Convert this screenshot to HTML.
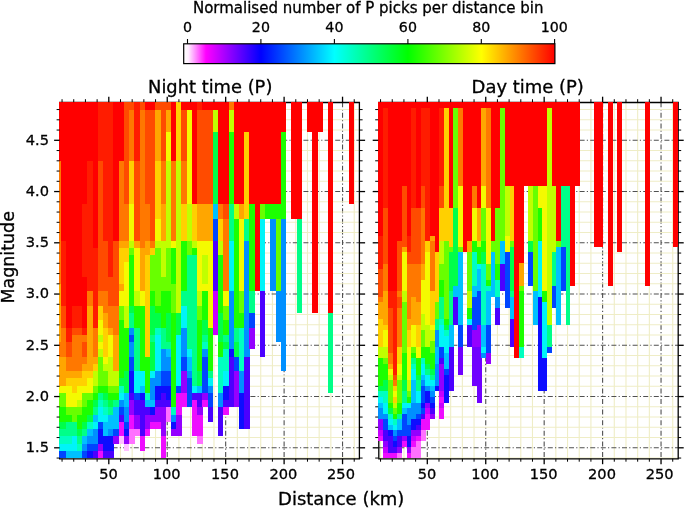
<!DOCTYPE html>
<html><head><meta charset="utf-8"><title>Normalised number of P picks per distance bin</title>
<style>
html,body{margin:0;padding:0;background:#fff;}
body{width:685px;height:510px;overflow:hidden;}
svg{display:block;filter:blur(0.35px);}
text{font-family:"DejaVu Sans","Liberation Sans",sans-serif;fill:#000;stroke:#000;stroke-width:0.3px;}
</style></head><body>
<svg width="685" height="510" viewBox="0 0 685 510">
<defs>
<linearGradient id="cb" x1="0" y1="0" x2="1" y2="0">
<stop offset="0" stop-color="#ffffff"/>
<stop offset="0.012" stop-color="#fff0ff"/>
<stop offset="0.06" stop-color="#ff00ff"/>
<stop offset="0.208" stop-color="#0000ff"/>
<stop offset="0.406" stop-color="#00ffff"/>
<stop offset="0.604" stop-color="#00ff00"/>
<stop offset="0.802" stop-color="#ffff00"/>
<stop offset="1" stop-color="#ff0000"/>
</linearGradient>
<filter id="bl" x="-2%" y="-2%" width="104%" height="104%"><feGaussianBlur stdDeviation="0.6"/></filter>
</defs>
<rect x="0" y="0" width="685" height="510" fill="#ffffff"/>
<!-- colorbar -->
<text x="368.2" y="13.1" font-size="15" text-anchor="middle">Normalised number of P picks per distance bin</text>
<g font-size="14.2" text-anchor="middle">
<text x="187.5" y="31.6">0</text><text x="260.9" y="31.6">20</text><text x="334.4" y="31.6">40</text><text x="407.9" y="31.6">60</text><text x="481.3" y="31.6">80</text><text x="554.3" y="31.6">100</text>
</g>
<g stroke="#000" stroke-width="1.1">
<line x1="187.5" y1="44" x2="187.5" y2="39"/><line x1="260.9" y1="44" x2="260.9" y2="39"/><line x1="334.4" y1="44" x2="334.4" y2="39"/><line x1="407.9" y1="44" x2="407.9" y2="39"/><line x1="481.3" y1="44" x2="481.3" y2="39"/><line x1="554.6" y1="44" x2="554.6" y2="39"/>
</g>
<rect x="183.7" y="43.8" width="371.2" height="19.8" fill="url(#cb)" stroke="#000" stroke-width="1.2"/>
<!-- titles -->
<text x="210.2" y="93.4" font-size="17.1" text-anchor="middle" textLength="124.3" lengthAdjust="spacingAndGlyphs">Night time (P)</text>
<text x="527.7" y="93.4" font-size="17.1" text-anchor="middle" textLength="112.3" lengthAdjust="spacingAndGlyphs">Day time (P)</text>
<text x="341.2" y="504.6" font-size="17.1" text-anchor="middle" textLength="126.3" lengthAdjust="spacingAndGlyphs">Distance (km)</text>
<text transform="translate(14.2,257.3) rotate(-90)" font-size="17.1" text-anchor="middle" textLength="92.4" lengthAdjust="spacingAndGlyphs">Magnitude</text>
<!-- y tick labels -->
<g font-size="14.6" text-anchor="end">
<text x="49" y="144.7">4.5</text><text x="49" y="195.9">4.0</text><text x="49" y="247.2">3.5</text><text x="49" y="298.4">3.0</text><text x="49" y="349.7">2.5</text><text x="49" y="400.9">2.0</text><text x="49" y="452.2">1.5</text>
</g>
<g font-size="14.6" text-anchor="middle">
<text x="108.6" y="479.4">50</text><text x="166.6" y="479.4">100</text><text x="225" y="479.4">150</text><text x="283.4" y="479.4">200</text><text x="341" y="479.4">250</text>
<text x="427" y="479.4">50</text><text x="485.2" y="479.4">100</text><text x="543.6" y="479.4">150</text><text x="602" y="479.4">200</text><text x="659.6" y="479.4">250</text>
</g>
<!-- left panel -->
<g>
<line x1="62.05" y1="102.2" x2="62.05" y2="458.7" stroke="#efedc6" stroke-width="1.1"/>
<line x1="73.74" y1="102.2" x2="73.74" y2="458.7" stroke="#efedc6" stroke-width="1.1"/>
<line x1="85.43" y1="102.2" x2="85.43" y2="458.7" stroke="#efedc6" stroke-width="1.1"/>
<line x1="97.11" y1="102.2" x2="97.11" y2="458.7" stroke="#efedc6" stroke-width="1.1"/>
<line x1="108.80" y1="102.2" x2="108.80" y2="458.7" stroke="#505050" stroke-width="1.1" stroke-dasharray="5 2.2 1.2 2.2"/>
<line x1="120.49" y1="102.2" x2="120.49" y2="458.7" stroke="#efedc6" stroke-width="1.1"/>
<line x1="132.17" y1="102.2" x2="132.17" y2="458.7" stroke="#efedc6" stroke-width="1.1"/>
<line x1="143.86" y1="102.2" x2="143.86" y2="458.7" stroke="#efedc6" stroke-width="1.1"/>
<line x1="155.55" y1="102.2" x2="155.55" y2="458.7" stroke="#efedc6" stroke-width="1.1"/>
<line x1="167.24" y1="102.2" x2="167.24" y2="458.7" stroke="#505050" stroke-width="1.1" stroke-dasharray="5 2.2 1.2 2.2"/>
<line x1="178.92" y1="102.2" x2="178.92" y2="458.7" stroke="#efedc6" stroke-width="1.1"/>
<line x1="190.61" y1="102.2" x2="190.61" y2="458.7" stroke="#efedc6" stroke-width="1.1"/>
<line x1="202.30" y1="102.2" x2="202.30" y2="458.7" stroke="#efedc6" stroke-width="1.1"/>
<line x1="213.98" y1="102.2" x2="213.98" y2="458.7" stroke="#efedc6" stroke-width="1.1"/>
<line x1="225.67" y1="102.2" x2="225.67" y2="458.7" stroke="#505050" stroke-width="1.1" stroke-dasharray="5 2.2 1.2 2.2"/>
<line x1="237.36" y1="102.2" x2="237.36" y2="458.7" stroke="#efedc6" stroke-width="1.1"/>
<line x1="249.04" y1="102.2" x2="249.04" y2="458.7" stroke="#efedc6" stroke-width="1.1"/>
<line x1="260.73" y1="102.2" x2="260.73" y2="458.7" stroke="#efedc6" stroke-width="1.1"/>
<line x1="272.42" y1="102.2" x2="272.42" y2="458.7" stroke="#efedc6" stroke-width="1.1"/>
<line x1="284.11" y1="102.2" x2="284.11" y2="458.7" stroke="#505050" stroke-width="1.1" stroke-dasharray="5 2.2 1.2 2.2"/>
<line x1="295.79" y1="102.2" x2="295.79" y2="458.7" stroke="#efedc6" stroke-width="1.1"/>
<line x1="307.48" y1="102.2" x2="307.48" y2="458.7" stroke="#efedc6" stroke-width="1.1"/>
<line x1="319.17" y1="102.2" x2="319.17" y2="458.7" stroke="#efedc6" stroke-width="1.1"/>
<line x1="330.85" y1="102.2" x2="330.85" y2="458.7" stroke="#efedc6" stroke-width="1.1"/>
<line x1="342.54" y1="102.2" x2="342.54" y2="458.7" stroke="#505050" stroke-width="1.1" stroke-dasharray="5 2.2 1.2 2.2"/>
<line x1="354.23" y1="102.2" x2="354.23" y2="458.7" stroke="#efedc6" stroke-width="1.1"/>
<line x1="59.6" y1="458.05" x2="359.6" y2="458.05" stroke="#efedc6" stroke-width="1.1"/>
<line x1="59.6" y1="447.80" x2="359.6" y2="447.80" stroke="#505050" stroke-width="1.1" stroke-dasharray="5 2.2 1.2 2.2"/>
<line x1="59.6" y1="437.55" x2="359.6" y2="437.55" stroke="#efedc6" stroke-width="1.1"/>
<line x1="59.6" y1="427.30" x2="359.6" y2="427.30" stroke="#efedc6" stroke-width="1.1"/>
<line x1="59.6" y1="417.05" x2="359.6" y2="417.05" stroke="#efedc6" stroke-width="1.1"/>
<line x1="59.6" y1="406.80" x2="359.6" y2="406.80" stroke="#efedc6" stroke-width="1.1"/>
<line x1="59.6" y1="396.55" x2="359.6" y2="396.55" stroke="#505050" stroke-width="1.1" stroke-dasharray="5 2.2 1.2 2.2"/>
<line x1="59.6" y1="386.30" x2="359.6" y2="386.30" stroke="#efedc6" stroke-width="1.1"/>
<line x1="59.6" y1="376.05" x2="359.6" y2="376.05" stroke="#efedc6" stroke-width="1.1"/>
<line x1="59.6" y1="365.80" x2="359.6" y2="365.80" stroke="#efedc6" stroke-width="1.1"/>
<line x1="59.6" y1="355.55" x2="359.6" y2="355.55" stroke="#efedc6" stroke-width="1.1"/>
<line x1="59.6" y1="345.30" x2="359.6" y2="345.30" stroke="#505050" stroke-width="1.1" stroke-dasharray="5 2.2 1.2 2.2"/>
<line x1="59.6" y1="335.05" x2="359.6" y2="335.05" stroke="#efedc6" stroke-width="1.1"/>
<line x1="59.6" y1="324.80" x2="359.6" y2="324.80" stroke="#efedc6" stroke-width="1.1"/>
<line x1="59.6" y1="314.55" x2="359.6" y2="314.55" stroke="#efedc6" stroke-width="1.1"/>
<line x1="59.6" y1="304.30" x2="359.6" y2="304.30" stroke="#efedc6" stroke-width="1.1"/>
<line x1="59.6" y1="294.05" x2="359.6" y2="294.05" stroke="#505050" stroke-width="1.1" stroke-dasharray="5 2.2 1.2 2.2"/>
<line x1="59.6" y1="283.80" x2="359.6" y2="283.80" stroke="#efedc6" stroke-width="1.1"/>
<line x1="59.6" y1="273.55" x2="359.6" y2="273.55" stroke="#efedc6" stroke-width="1.1"/>
<line x1="59.6" y1="263.30" x2="359.6" y2="263.30" stroke="#efedc6" stroke-width="1.1"/>
<line x1="59.6" y1="253.05" x2="359.6" y2="253.05" stroke="#efedc6" stroke-width="1.1"/>
<line x1="59.6" y1="242.80" x2="359.6" y2="242.80" stroke="#505050" stroke-width="1.1" stroke-dasharray="5 2.2 1.2 2.2"/>
<line x1="59.6" y1="232.55" x2="359.6" y2="232.55" stroke="#efedc6" stroke-width="1.1"/>
<line x1="59.6" y1="222.30" x2="359.6" y2="222.30" stroke="#efedc6" stroke-width="1.1"/>
<line x1="59.6" y1="212.05" x2="359.6" y2="212.05" stroke="#efedc6" stroke-width="1.1"/>
<line x1="59.6" y1="201.80" x2="359.6" y2="201.80" stroke="#efedc6" stroke-width="1.1"/>
<line x1="59.6" y1="191.55" x2="359.6" y2="191.55" stroke="#505050" stroke-width="1.1" stroke-dasharray="5 2.2 1.2 2.2"/>
<line x1="59.6" y1="181.30" x2="359.6" y2="181.30" stroke="#efedc6" stroke-width="1.1"/>
<line x1="59.6" y1="171.05" x2="359.6" y2="171.05" stroke="#efedc6" stroke-width="1.1"/>
<line x1="59.6" y1="160.80" x2="359.6" y2="160.80" stroke="#efedc6" stroke-width="1.1"/>
<line x1="59.6" y1="150.55" x2="359.6" y2="150.55" stroke="#efedc6" stroke-width="1.1"/>
<line x1="59.6" y1="140.30" x2="359.6" y2="140.30" stroke="#505050" stroke-width="1.1" stroke-dasharray="5 2.2 1.2 2.2"/>
<line x1="59.6" y1="130.05" x2="359.6" y2="130.05" stroke="#efedc6" stroke-width="1.1"/>
<line x1="59.6" y1="119.80" x2="359.6" y2="119.80" stroke="#efedc6" stroke-width="1.1"/>
<line x1="59.6" y1="109.55" x2="359.6" y2="109.55" stroke="#efedc6" stroke-width="1.1"/>
</g>
<path d="M59.7 101.85V459.45M359.4 101.85V459.45M59.05 102.5H360.05M59.05 458.8H360.05" fill="none" stroke="#000" stroke-width="1.3"/>
<g filter="url(#bl)" shape-rendering="crispEdges">
<rect x="59.00" y="450.75" width="2.30" height="7.40" fill="#0044ff"/>
<rect x="59.00" y="443.50" width="2.30" height="7.40" fill="#00f4f8"/>
<rect x="59.00" y="436.25" width="2.30" height="7.40" fill="#00ffc0"/>
<rect x="59.00" y="429.00" width="2.30" height="7.40" fill="#00ff88"/>
<rect x="59.00" y="421.75" width="2.30" height="7.40" fill="#00ff48"/>
<rect x="59.00" y="407.25" width="2.30" height="14.65" fill="#1cff00"/>
<rect x="59.00" y="392.75" width="2.30" height="14.65" fill="#68ff00"/>
<rect x="59.00" y="385.50" width="2.30" height="7.40" fill="#f4fa00"/>
<rect x="59.00" y="356.50" width="2.30" height="29.15" fill="#ffa600"/>
<rect x="59.00" y="342.00" width="2.30" height="14.65" fill="#ff7800"/>
<rect x="59.00" y="284.00" width="2.30" height="58.15" fill="#ffa600"/>
<rect x="59.00" y="160.75" width="2.30" height="123.40" fill="#ff7800"/>
<rect x="59.00" y="102.00" width="2.30" height="58.75" fill="#ff0600"/>
<rect x="61.15" y="450.75" width="5.38" height="7.40" fill="#0044ff"/>
<rect x="61.15" y="443.50" width="5.38" height="7.40" fill="#00f4f8"/>
<rect x="61.15" y="436.25" width="5.38" height="7.40" fill="#00ffc0"/>
<rect x="61.15" y="429.00" width="5.38" height="7.40" fill="#00ff88"/>
<rect x="61.15" y="421.75" width="5.38" height="7.40" fill="#00ff48"/>
<rect x="61.15" y="407.25" width="5.38" height="14.65" fill="#1cff00"/>
<rect x="61.15" y="392.75" width="5.38" height="14.65" fill="#68ff00"/>
<rect x="61.15" y="385.50" width="5.38" height="7.40" fill="#f4fa00"/>
<rect x="61.15" y="356.50" width="5.38" height="29.15" fill="#ffa600"/>
<rect x="61.15" y="327.50" width="5.38" height="29.15" fill="#ff7800"/>
<rect x="61.15" y="305.75" width="5.38" height="21.90" fill="#ff4c00"/>
<rect x="61.15" y="240.50" width="5.38" height="65.40" fill="#ff1f00"/>
<rect x="61.15" y="102.00" width="5.38" height="138.50" fill="#ff0600"/>
<rect x="66.38" y="450.75" width="5.38" height="7.40" fill="#00c0ff"/>
<rect x="66.38" y="443.50" width="5.38" height="7.40" fill="#00f4f8"/>
<rect x="66.38" y="436.25" width="5.38" height="7.40" fill="#00ffc0"/>
<rect x="66.38" y="421.75" width="5.38" height="14.65" fill="#00ff88"/>
<rect x="66.38" y="414.50" width="5.38" height="7.40" fill="#1cff00"/>
<rect x="66.38" y="407.25" width="5.38" height="7.40" fill="#68ff00"/>
<rect x="66.38" y="385.50" width="5.38" height="21.90" fill="#f4fa00"/>
<rect x="66.38" y="378.25" width="5.38" height="7.40" fill="#ffd000"/>
<rect x="66.38" y="371.00" width="5.38" height="7.40" fill="#ffa600"/>
<rect x="66.38" y="356.50" width="5.38" height="14.65" fill="#ff7800"/>
<rect x="66.38" y="342.00" width="5.38" height="14.65" fill="#ff4c00"/>
<rect x="66.38" y="327.50" width="5.38" height="14.65" fill="#ff1f00"/>
<rect x="66.38" y="102.00" width="5.38" height="225.50" fill="#ff0600"/>
<rect x="71.61" y="450.75" width="5.38" height="7.40" fill="#00c0ff"/>
<rect x="71.61" y="436.25" width="5.38" height="14.65" fill="#00f4f8"/>
<rect x="71.61" y="421.75" width="5.38" height="14.65" fill="#00ff88"/>
<rect x="71.61" y="407.25" width="5.38" height="14.65" fill="#68ff00"/>
<rect x="71.61" y="392.75" width="5.38" height="14.65" fill="#f4fa00"/>
<rect x="71.61" y="378.25" width="5.38" height="14.65" fill="#ffd000"/>
<rect x="71.61" y="371.00" width="5.38" height="7.40" fill="#ffa600"/>
<rect x="71.61" y="334.75" width="5.38" height="36.40" fill="#ff7800"/>
<rect x="71.61" y="327.50" width="5.38" height="7.40" fill="#ff4c00"/>
<rect x="71.61" y="305.75" width="5.38" height="21.90" fill="#ff1f00"/>
<rect x="71.61" y="102.00" width="5.38" height="203.75" fill="#ff0600"/>
<rect x="76.84" y="450.75" width="5.38" height="7.40" fill="#00c0ff"/>
<rect x="76.84" y="443.50" width="5.38" height="7.40" fill="#00ffc0"/>
<rect x="76.84" y="436.25" width="5.38" height="7.40" fill="#00ff88"/>
<rect x="76.84" y="429.00" width="5.38" height="7.40" fill="#00ff48"/>
<rect x="76.84" y="414.50" width="5.38" height="14.65" fill="#1cff00"/>
<rect x="76.84" y="407.25" width="5.38" height="7.40" fill="#68ff00"/>
<rect x="76.84" y="400.00" width="5.38" height="7.40" fill="#c0ff00"/>
<rect x="76.84" y="385.50" width="5.38" height="14.65" fill="#f4fa00"/>
<rect x="76.84" y="378.25" width="5.38" height="7.40" fill="#ffd000"/>
<rect x="76.84" y="371.00" width="5.38" height="7.40" fill="#ffa600"/>
<rect x="76.84" y="334.75" width="5.38" height="36.40" fill="#ff7800"/>
<rect x="76.84" y="327.50" width="5.38" height="7.40" fill="#ff4c00"/>
<rect x="76.84" y="305.75" width="5.38" height="21.90" fill="#ff1f00"/>
<rect x="76.84" y="102.00" width="5.38" height="203.75" fill="#ff0600"/>
<rect x="82.08" y="450.75" width="5.38" height="7.40" fill="#0044ff"/>
<rect x="82.08" y="443.50" width="5.38" height="7.40" fill="#0090ff"/>
<rect x="82.08" y="436.25" width="5.38" height="7.40" fill="#00c0ff"/>
<rect x="82.08" y="429.00" width="5.38" height="7.40" fill="#00ff88"/>
<rect x="82.08" y="421.75" width="5.38" height="7.40" fill="#00ff48"/>
<rect x="82.08" y="407.25" width="5.38" height="14.65" fill="#1cff00"/>
<rect x="82.08" y="392.75" width="5.38" height="14.65" fill="#68ff00"/>
<rect x="82.08" y="385.50" width="5.38" height="7.40" fill="#f4fa00"/>
<rect x="82.08" y="371.00" width="5.38" height="14.65" fill="#ffd000"/>
<rect x="82.08" y="363.75" width="5.38" height="7.40" fill="#ffa600"/>
<rect x="82.08" y="356.50" width="5.38" height="7.40" fill="#ff7800"/>
<rect x="82.08" y="342.00" width="5.38" height="14.65" fill="#ff4c00"/>
<rect x="82.08" y="334.75" width="5.38" height="7.40" fill="#ff7800"/>
<rect x="82.08" y="327.50" width="5.38" height="7.40" fill="#ff1f00"/>
<rect x="82.08" y="276.75" width="5.38" height="50.90" fill="#ff0600"/>
<rect x="82.08" y="204.25" width="5.38" height="72.65" fill="#ff1f00"/>
<rect x="82.08" y="102.00" width="5.38" height="102.25" fill="#ff0600"/>
<rect x="87.31" y="450.75" width="5.38" height="7.40" fill="#0810ff"/>
<rect x="87.31" y="443.50" width="5.38" height="7.40" fill="#0044ff"/>
<rect x="87.31" y="436.25" width="5.38" height="7.40" fill="#0090ff"/>
<rect x="87.31" y="429.00" width="5.38" height="7.40" fill="#00c0ff"/>
<rect x="87.31" y="421.75" width="5.38" height="7.40" fill="#00ffc0"/>
<rect x="87.31" y="414.50" width="5.38" height="7.40" fill="#00ff48"/>
<rect x="87.31" y="400.00" width="5.38" height="14.65" fill="#1cff00"/>
<rect x="87.31" y="392.75" width="5.38" height="7.40" fill="#68ff00"/>
<rect x="87.31" y="378.25" width="5.38" height="14.65" fill="#f4fa00"/>
<rect x="87.31" y="371.00" width="5.38" height="7.40" fill="#ffd000"/>
<rect x="87.31" y="305.75" width="5.38" height="65.40" fill="#ffa600"/>
<rect x="87.31" y="291.25" width="5.38" height="14.65" fill="#ff7800"/>
<rect x="87.31" y="160.75" width="5.38" height="130.65" fill="#ff1f00"/>
<rect x="87.31" y="102.00" width="5.38" height="58.75" fill="#ff0600"/>
<rect x="92.54" y="450.75" width="5.38" height="7.40" fill="#4c00ff"/>
<rect x="92.54" y="443.50" width="5.38" height="7.40" fill="#0044ff"/>
<rect x="92.54" y="429.00" width="5.38" height="14.65" fill="#0090ff"/>
<rect x="92.54" y="421.75" width="5.38" height="7.40" fill="#00f4f8"/>
<rect x="92.54" y="414.50" width="5.38" height="7.40" fill="#00c0ff"/>
<rect x="92.54" y="407.25" width="5.38" height="7.40" fill="#00ff88"/>
<rect x="92.54" y="400.00" width="5.38" height="7.40" fill="#00ff48"/>
<rect x="92.54" y="392.75" width="5.38" height="7.40" fill="#1cff00"/>
<rect x="92.54" y="385.50" width="5.38" height="7.40" fill="#68ff00"/>
<rect x="92.54" y="371.00" width="5.38" height="14.65" fill="#c0ff00"/>
<rect x="92.54" y="363.75" width="5.38" height="7.40" fill="#ffd000"/>
<rect x="92.54" y="356.50" width="5.38" height="7.40" fill="#ffa600"/>
<rect x="92.54" y="327.50" width="5.38" height="29.15" fill="#ff7800"/>
<rect x="92.54" y="247.75" width="5.38" height="79.90" fill="#ff1f00"/>
<rect x="92.54" y="102.00" width="5.38" height="145.75" fill="#ff0600"/>
<rect x="97.77" y="450.75" width="5.38" height="7.40" fill="#ee10ff"/>
<rect x="97.77" y="443.50" width="5.38" height="7.40" fill="#9400ff"/>
<rect x="97.77" y="429.00" width="5.38" height="14.65" fill="#0810ff"/>
<rect x="97.77" y="421.75" width="5.38" height="7.40" fill="#0044ff"/>
<rect x="97.77" y="407.25" width="5.38" height="14.65" fill="#00f4f8"/>
<rect x="97.77" y="400.00" width="5.38" height="7.40" fill="#00ffc0"/>
<rect x="97.77" y="392.75" width="5.38" height="7.40" fill="#00ff88"/>
<rect x="97.77" y="385.50" width="5.38" height="7.40" fill="#1cff00"/>
<rect x="97.77" y="356.50" width="5.38" height="29.15" fill="#68ff00"/>
<rect x="97.77" y="349.25" width="5.38" height="7.40" fill="#c0ff00"/>
<rect x="97.77" y="342.00" width="5.38" height="7.40" fill="#f4fa00"/>
<rect x="97.77" y="334.75" width="5.38" height="7.40" fill="#c0ff00"/>
<rect x="97.77" y="320.25" width="5.38" height="14.65" fill="#f4fa00"/>
<rect x="97.77" y="305.75" width="5.38" height="14.65" fill="#ffd000"/>
<rect x="97.77" y="291.25" width="5.38" height="14.65" fill="#ff7800"/>
<rect x="97.77" y="160.75" width="5.38" height="130.65" fill="#ff4c00"/>
<rect x="97.77" y="102.00" width="5.38" height="58.75" fill="#ff1f00"/>
<rect x="103.00" y="450.75" width="5.38" height="7.40" fill="#4c00ff"/>
<rect x="103.00" y="436.25" width="5.38" height="14.65" fill="#0810ff"/>
<rect x="103.00" y="421.75" width="5.38" height="14.65" fill="#00c0ff"/>
<rect x="103.00" y="414.50" width="5.38" height="7.40" fill="#00f4f8"/>
<rect x="103.00" y="407.25" width="5.38" height="7.40" fill="#00ffc0"/>
<rect x="103.00" y="400.00" width="5.38" height="7.40" fill="#00ff88"/>
<rect x="103.00" y="392.75" width="5.38" height="7.40" fill="#00ff48"/>
<rect x="103.00" y="385.50" width="5.38" height="7.40" fill="#1cff00"/>
<rect x="103.00" y="371.00" width="5.38" height="14.65" fill="#68ff00"/>
<rect x="103.00" y="363.75" width="5.38" height="7.40" fill="#c0ff00"/>
<rect x="103.00" y="356.50" width="5.38" height="7.40" fill="#f4fa00"/>
<rect x="103.00" y="327.50" width="5.38" height="29.15" fill="#ffd000"/>
<rect x="103.00" y="313.00" width="5.38" height="14.65" fill="#ffa600"/>
<rect x="103.00" y="291.25" width="5.38" height="21.90" fill="#ff7800"/>
<rect x="103.00" y="240.50" width="5.38" height="50.90" fill="#ff4c00"/>
<rect x="103.00" y="102.00" width="5.38" height="138.50" fill="#ff1f00"/>
<rect x="108.23" y="450.75" width="5.38" height="7.40" fill="#4c00ff"/>
<rect x="108.23" y="436.25" width="5.38" height="14.65" fill="#0810ff"/>
<rect x="108.23" y="429.00" width="5.38" height="7.40" fill="#0090ff"/>
<rect x="108.23" y="414.50" width="5.38" height="14.65" fill="#00c0ff"/>
<rect x="108.23" y="407.25" width="5.38" height="7.40" fill="#00ff88"/>
<rect x="108.23" y="400.00" width="5.38" height="7.40" fill="#00ff48"/>
<rect x="108.23" y="392.75" width="5.38" height="7.40" fill="#1cff00"/>
<rect x="108.23" y="385.50" width="5.38" height="7.40" fill="#68ff00"/>
<rect x="108.23" y="356.50" width="5.38" height="29.15" fill="#c0ff00"/>
<rect x="108.23" y="334.75" width="5.38" height="21.90" fill="#f4fa00"/>
<rect x="108.23" y="327.50" width="5.38" height="7.40" fill="#ffa600"/>
<rect x="108.23" y="305.75" width="5.38" height="21.90" fill="#ff7800"/>
<rect x="108.23" y="276.75" width="5.38" height="29.15" fill="#ff4c00"/>
<rect x="108.23" y="102.00" width="5.38" height="174.75" fill="#ff1f00"/>
<rect x="113.46" y="436.25" width="5.38" height="7.40" fill="#9400ff"/>
<rect x="113.46" y="429.00" width="5.38" height="7.40" fill="#0044ff"/>
<rect x="113.46" y="407.25" width="5.38" height="21.90" fill="#00c0ff"/>
<rect x="113.46" y="400.00" width="5.38" height="7.40" fill="#00ff88"/>
<rect x="113.46" y="392.75" width="5.38" height="7.40" fill="#1cff00"/>
<rect x="113.46" y="385.50" width="5.38" height="7.40" fill="#68ff00"/>
<rect x="113.46" y="371.00" width="5.38" height="14.65" fill="#c0ff00"/>
<rect x="113.46" y="334.75" width="5.38" height="36.40" fill="#ffa600"/>
<rect x="113.46" y="305.75" width="5.38" height="29.15" fill="#ff7800"/>
<rect x="113.46" y="240.50" width="5.38" height="65.40" fill="#ff4c00"/>
<rect x="113.46" y="102.00" width="5.38" height="138.50" fill="#ff0600"/>
<rect x="118.69" y="436.25" width="5.38" height="7.40" fill="#ffc0ff"/>
<rect x="118.69" y="421.75" width="5.38" height="14.65" fill="#ee10ff"/>
<rect x="118.69" y="414.50" width="5.38" height="7.40" fill="#4c00ff"/>
<rect x="118.69" y="407.25" width="5.38" height="7.40" fill="#0044ff"/>
<rect x="118.69" y="400.00" width="5.38" height="7.40" fill="#0090ff"/>
<rect x="118.69" y="392.75" width="5.38" height="7.40" fill="#00f4f8"/>
<rect x="118.69" y="385.50" width="5.38" height="7.40" fill="#00ffc0"/>
<rect x="118.69" y="378.25" width="5.38" height="7.40" fill="#00ff48"/>
<rect x="118.69" y="320.25" width="5.38" height="58.15" fill="#1cff00"/>
<rect x="118.69" y="305.75" width="5.38" height="14.65" fill="#68ff00"/>
<rect x="118.69" y="291.25" width="5.38" height="14.65" fill="#f4fa00"/>
<rect x="118.69" y="284.00" width="5.38" height="7.40" fill="#ffa600"/>
<rect x="118.69" y="247.75" width="5.38" height="36.40" fill="#ffd000"/>
<rect x="118.69" y="240.50" width="5.38" height="7.40" fill="#ffa600"/>
<rect x="118.69" y="160.75" width="5.38" height="79.90" fill="#ff7800"/>
<rect x="118.69" y="102.00" width="5.38" height="58.75" fill="#ff0600"/>
<rect x="123.92" y="443.50" width="5.38" height="7.40" fill="#ffc0ff"/>
<rect x="123.92" y="436.25" width="5.38" height="7.40" fill="#9400ff"/>
<rect x="123.92" y="429.00" width="5.38" height="7.40" fill="#0810ff"/>
<rect x="123.92" y="421.75" width="5.38" height="7.40" fill="#0044ff"/>
<rect x="123.92" y="407.25" width="5.38" height="14.65" fill="#0090ff"/>
<rect x="123.92" y="392.75" width="5.38" height="14.65" fill="#00c0ff"/>
<rect x="123.92" y="371.00" width="5.38" height="21.90" fill="#00ff48"/>
<rect x="123.92" y="327.50" width="5.38" height="43.65" fill="#1cff00"/>
<rect x="123.92" y="305.75" width="5.38" height="21.90" fill="#c0ff00"/>
<rect x="123.92" y="262.25" width="5.38" height="43.65" fill="#f4fa00"/>
<rect x="123.92" y="247.75" width="5.38" height="14.65" fill="#ffd000"/>
<rect x="123.92" y="240.50" width="5.38" height="7.40" fill="#ffa600"/>
<rect x="123.92" y="204.25" width="5.38" height="36.40" fill="#ff7800"/>
<rect x="123.92" y="102.00" width="5.38" height="102.25" fill="#ff4c00"/>
<rect x="129.16" y="429.00" width="5.38" height="14.65" fill="#ff70ff"/>
<rect x="129.16" y="414.50" width="5.38" height="14.65" fill="#ee10ff"/>
<rect x="129.16" y="400.00" width="5.38" height="14.65" fill="#9400ff"/>
<rect x="129.16" y="392.75" width="5.38" height="7.40" fill="#4c00ff"/>
<rect x="129.16" y="371.00" width="5.38" height="21.90" fill="#0810ff"/>
<rect x="129.16" y="356.50" width="5.38" height="14.65" fill="#0044ff"/>
<rect x="129.16" y="342.00" width="5.38" height="14.65" fill="#0090ff"/>
<rect x="129.16" y="334.75" width="5.38" height="7.40" fill="#0044ff"/>
<rect x="129.16" y="327.50" width="5.38" height="7.40" fill="#0090ff"/>
<rect x="129.16" y="313.00" width="5.38" height="14.65" fill="#00ff88"/>
<rect x="129.16" y="305.75" width="5.38" height="7.40" fill="#00ff48"/>
<rect x="129.16" y="255.00" width="5.38" height="50.90" fill="#1cff00"/>
<rect x="129.16" y="247.75" width="5.38" height="7.40" fill="#68ff00"/>
<rect x="129.16" y="240.50" width="5.38" height="7.40" fill="#c0ff00"/>
<rect x="129.16" y="204.25" width="5.38" height="36.40" fill="#f4fa00"/>
<rect x="129.16" y="160.75" width="5.38" height="43.65" fill="#ffd000"/>
<rect x="129.16" y="110.00" width="5.38" height="50.90" fill="#ff7800"/>
<rect x="129.16" y="102.00" width="5.38" height="8.00" fill="#ff4c00"/>
<rect x="134.39" y="429.00" width="5.38" height="7.40" fill="#ff70ff"/>
<rect x="134.39" y="414.50" width="5.38" height="14.65" fill="#9400ff"/>
<rect x="134.39" y="400.00" width="5.38" height="14.65" fill="#4c00ff"/>
<rect x="134.39" y="392.75" width="5.38" height="7.40" fill="#0044ff"/>
<rect x="134.39" y="371.00" width="5.38" height="21.90" fill="#00f4f8"/>
<rect x="134.39" y="327.50" width="5.38" height="43.65" fill="#00ff88"/>
<rect x="134.39" y="305.75" width="5.38" height="21.90" fill="#1cff00"/>
<rect x="134.39" y="291.25" width="5.38" height="14.65" fill="#c0ff00"/>
<rect x="134.39" y="247.75" width="5.38" height="43.65" fill="#f4fa00"/>
<rect x="134.39" y="240.50" width="5.38" height="7.40" fill="#ffa600"/>
<rect x="134.39" y="160.75" width="5.38" height="79.90" fill="#ff4c00"/>
<rect x="134.39" y="102.00" width="5.38" height="58.75" fill="#ff1f00"/>
<rect x="139.62" y="436.25" width="5.38" height="14.65" fill="#ee10ff"/>
<rect x="139.62" y="400.00" width="5.38" height="36.40" fill="#4c00ff"/>
<rect x="139.62" y="392.75" width="5.38" height="7.40" fill="#0810ff"/>
<rect x="139.62" y="385.50" width="5.38" height="7.40" fill="#00c0ff"/>
<rect x="139.62" y="371.00" width="5.38" height="14.65" fill="#00f4f8"/>
<rect x="139.62" y="305.75" width="5.38" height="65.40" fill="#1cff00"/>
<rect x="139.62" y="291.25" width="5.38" height="14.65" fill="#f4fa00"/>
<rect x="139.62" y="247.75" width="5.38" height="43.65" fill="#ffa600"/>
<rect x="139.62" y="110.00" width="5.38" height="137.90" fill="#ff7800"/>
<rect x="139.62" y="102.00" width="5.38" height="8.00" fill="#ff4c00"/>
<rect x="144.85" y="429.00" width="5.38" height="7.40" fill="#ee10ff"/>
<rect x="144.85" y="414.50" width="5.38" height="14.65" fill="#9400ff"/>
<rect x="144.85" y="407.25" width="5.38" height="7.40" fill="#4c00ff"/>
<rect x="144.85" y="400.00" width="5.38" height="7.40" fill="#00c0ff"/>
<rect x="144.85" y="392.75" width="5.38" height="7.40" fill="#00ffc0"/>
<rect x="144.85" y="356.50" width="5.38" height="36.40" fill="#1cff00"/>
<rect x="144.85" y="255.00" width="5.38" height="101.65" fill="#ffd000"/>
<rect x="144.85" y="240.50" width="5.38" height="14.65" fill="#ffa600"/>
<rect x="144.85" y="204.25" width="5.38" height="36.40" fill="#ff7800"/>
<rect x="144.85" y="110.00" width="5.38" height="94.40" fill="#ff4c00"/>
<rect x="144.85" y="102.00" width="5.38" height="8.00" fill="#ff0600"/>
<rect x="150.08" y="421.75" width="5.38" height="7.40" fill="#ee10ff"/>
<rect x="150.08" y="414.50" width="5.38" height="7.40" fill="#9400ff"/>
<rect x="150.08" y="407.25" width="5.38" height="7.40" fill="#0810ff"/>
<rect x="150.08" y="400.00" width="5.38" height="7.40" fill="#00c0ff"/>
<rect x="150.08" y="378.25" width="5.38" height="21.90" fill="#0090ff"/>
<rect x="150.08" y="371.00" width="5.38" height="7.40" fill="#00f4f8"/>
<rect x="150.08" y="342.00" width="5.38" height="29.15" fill="#00ff48"/>
<rect x="150.08" y="334.75" width="5.38" height="7.40" fill="#00ff88"/>
<rect x="150.08" y="305.75" width="5.38" height="29.15" fill="#00ff48"/>
<rect x="150.08" y="291.25" width="5.38" height="14.65" fill="#1cff00"/>
<rect x="150.08" y="255.00" width="5.38" height="36.40" fill="#68ff00"/>
<rect x="150.08" y="247.75" width="5.38" height="7.40" fill="#ffd000"/>
<rect x="150.08" y="240.50" width="5.38" height="7.40" fill="#ff7800"/>
<rect x="150.08" y="110.00" width="5.38" height="130.65" fill="#ff4c00"/>
<rect x="150.08" y="102.00" width="5.38" height="8.00" fill="#ff0600"/>
<rect x="155.31" y="421.75" width="5.38" height="7.40" fill="#ee10ff"/>
<rect x="155.31" y="407.25" width="5.38" height="14.65" fill="#9400ff"/>
<rect x="155.31" y="400.00" width="5.38" height="7.40" fill="#4c00ff"/>
<rect x="155.31" y="385.50" width="5.38" height="14.65" fill="#0810ff"/>
<rect x="155.31" y="371.00" width="5.38" height="14.65" fill="#0090ff"/>
<rect x="155.31" y="334.75" width="5.38" height="36.40" fill="#00f4f8"/>
<rect x="155.31" y="327.50" width="5.38" height="7.40" fill="#00ffc0"/>
<rect x="155.31" y="313.00" width="5.38" height="14.65" fill="#00ff48"/>
<rect x="155.31" y="305.75" width="5.38" height="7.40" fill="#1cff00"/>
<rect x="155.31" y="247.75" width="5.38" height="58.15" fill="#68ff00"/>
<rect x="155.31" y="240.50" width="5.38" height="7.40" fill="#c0ff00"/>
<rect x="155.31" y="218.75" width="5.38" height="21.90" fill="#f4fa00"/>
<rect x="155.31" y="160.75" width="5.38" height="58.15" fill="#ffd000"/>
<rect x="155.31" y="110.00" width="5.38" height="50.90" fill="#ffa600"/>
<rect x="155.31" y="102.00" width="5.38" height="8.00" fill="#ff4c00"/>
<rect x="160.54" y="436.25" width="5.38" height="21.90" fill="#ee10ff"/>
<rect x="160.54" y="407.25" width="5.38" height="29.15" fill="#9400ff"/>
<rect x="160.54" y="392.75" width="5.38" height="14.65" fill="#4c00ff"/>
<rect x="160.54" y="385.50" width="5.38" height="7.40" fill="#0810ff"/>
<rect x="160.54" y="371.00" width="5.38" height="14.65" fill="#0044ff"/>
<rect x="160.54" y="349.25" width="5.38" height="21.90" fill="#0090ff"/>
<rect x="160.54" y="327.50" width="5.38" height="21.90" fill="#00ff88"/>
<rect x="160.54" y="291.25" width="5.38" height="36.40" fill="#1cff00"/>
<rect x="160.54" y="276.75" width="5.38" height="14.65" fill="#68ff00"/>
<rect x="160.54" y="240.50" width="5.38" height="36.40" fill="#c0ff00"/>
<rect x="160.54" y="204.25" width="5.38" height="36.40" fill="#ffa600"/>
<rect x="160.54" y="160.75" width="5.38" height="43.65" fill="#ff7800"/>
<rect x="160.54" y="102.00" width="5.38" height="58.75" fill="#ff4c00"/>
<rect x="165.77" y="407.25" width="5.38" height="14.65" fill="#ff70ff"/>
<rect x="165.77" y="400.00" width="5.38" height="7.40" fill="#4c00ff"/>
<rect x="165.77" y="385.50" width="5.38" height="14.65" fill="#0810ff"/>
<rect x="165.77" y="371.00" width="5.38" height="14.65" fill="#0044ff"/>
<rect x="165.77" y="356.50" width="5.38" height="14.65" fill="#0090ff"/>
<rect x="165.77" y="349.25" width="5.38" height="7.40" fill="#00c0ff"/>
<rect x="165.77" y="342.00" width="5.38" height="7.40" fill="#00ff88"/>
<rect x="165.77" y="313.00" width="5.38" height="29.15" fill="#00ff48"/>
<rect x="165.77" y="291.25" width="5.38" height="21.90" fill="#1cff00"/>
<rect x="165.77" y="247.75" width="5.38" height="43.65" fill="#68ff00"/>
<rect x="165.77" y="160.75" width="5.38" height="87.15" fill="#c0ff00"/>
<rect x="165.77" y="131.75" width="5.38" height="29.15" fill="#f4fa00"/>
<rect x="165.77" y="110.00" width="5.38" height="21.90" fill="#ffa600"/>
<rect x="165.77" y="102.00" width="5.38" height="8.00" fill="#ff4c00"/>
<rect x="171.00" y="429.00" width="5.38" height="7.40" fill="#9400ff"/>
<rect x="171.00" y="421.75" width="5.38" height="7.40" fill="#0810ff"/>
<rect x="171.00" y="414.50" width="5.38" height="7.40" fill="#0090ff"/>
<rect x="171.00" y="407.25" width="5.38" height="7.40" fill="#00ffc0"/>
<rect x="171.00" y="313.00" width="5.38" height="94.40" fill="#1cff00"/>
<rect x="171.00" y="284.00" width="5.38" height="29.15" fill="#68ff00"/>
<rect x="171.00" y="247.75" width="5.38" height="36.40" fill="#1cff00"/>
<rect x="171.00" y="240.50" width="5.38" height="7.40" fill="#f4fa00"/>
<rect x="171.00" y="160.75" width="5.38" height="79.90" fill="#ff7800"/>
<rect x="171.00" y="102.00" width="5.38" height="58.75" fill="#ff0600"/>
<rect x="176.23" y="414.50" width="5.38" height="21.90" fill="#9400ff"/>
<rect x="176.23" y="392.75" width="5.38" height="21.90" fill="#ee10ff"/>
<rect x="176.23" y="385.50" width="5.38" height="7.40" fill="#0044ff"/>
<rect x="176.23" y="334.75" width="5.38" height="50.90" fill="#00f4f8"/>
<rect x="176.23" y="313.00" width="5.38" height="21.90" fill="#00ff48"/>
<rect x="176.23" y="160.75" width="5.38" height="152.40" fill="#c0ff00"/>
<rect x="176.23" y="102.00" width="5.38" height="58.75" fill="#ffd000"/>
<rect x="181.47" y="392.75" width="5.38" height="14.65" fill="#ee10ff"/>
<rect x="181.47" y="371.00" width="5.38" height="21.90" fill="#9400ff"/>
<rect x="181.47" y="356.50" width="5.38" height="14.65" fill="#0044ff"/>
<rect x="181.47" y="327.50" width="5.38" height="29.15" fill="#0090ff"/>
<rect x="181.47" y="305.75" width="5.38" height="21.90" fill="#00f4f8"/>
<rect x="181.47" y="291.25" width="5.38" height="14.65" fill="#00ff88"/>
<rect x="181.47" y="240.50" width="5.38" height="50.90" fill="#1cff00"/>
<rect x="181.47" y="204.25" width="5.38" height="36.40" fill="#ffd000"/>
<rect x="181.47" y="160.75" width="5.38" height="43.65" fill="#ff7800"/>
<rect x="181.47" y="110.00" width="5.38" height="50.90" fill="#ff4c00"/>
<rect x="181.47" y="102.00" width="5.38" height="8.00" fill="#ff0600"/>
<rect x="186.70" y="378.25" width="5.38" height="29.15" fill="#0044ff"/>
<rect x="186.70" y="371.00" width="5.38" height="7.40" fill="#0090ff"/>
<rect x="186.70" y="356.50" width="5.38" height="14.65" fill="#00c0ff"/>
<rect x="186.70" y="349.25" width="5.38" height="7.40" fill="#00f4f8"/>
<rect x="186.70" y="255.00" width="5.38" height="94.40" fill="#00ff88"/>
<rect x="186.70" y="240.50" width="5.38" height="14.65" fill="#68ff00"/>
<rect x="186.70" y="204.25" width="5.38" height="36.40" fill="#c0ff00"/>
<rect x="186.70" y="110.00" width="5.38" height="94.40" fill="#f4fa00"/>
<rect x="186.70" y="102.00" width="5.38" height="8.00" fill="#ff0600"/>
<rect x="191.93" y="400.00" width="5.38" height="36.40" fill="#ee10ff"/>
<rect x="191.93" y="392.75" width="5.38" height="7.40" fill="#4c00ff"/>
<rect x="191.93" y="385.50" width="5.38" height="7.40" fill="#00f4f8"/>
<rect x="191.93" y="255.00" width="5.38" height="130.65" fill="#00ff88"/>
<rect x="191.93" y="247.75" width="5.38" height="7.40" fill="#1cff00"/>
<rect x="191.93" y="240.50" width="5.38" height="7.40" fill="#c0ff00"/>
<rect x="191.93" y="204.25" width="5.38" height="36.40" fill="#ffd000"/>
<rect x="191.93" y="102.00" width="5.38" height="102.25" fill="#ff0600"/>
<rect x="197.16" y="436.25" width="5.38" height="7.40" fill="#ff70ff"/>
<rect x="197.16" y="414.50" width="5.38" height="21.90" fill="#ee10ff"/>
<rect x="197.16" y="407.25" width="5.38" height="7.40" fill="#9400ff"/>
<rect x="197.16" y="392.75" width="5.38" height="14.65" fill="#4c00ff"/>
<rect x="197.16" y="385.50" width="5.38" height="7.40" fill="#00c0ff"/>
<rect x="197.16" y="371.00" width="5.38" height="14.65" fill="#00ff48"/>
<rect x="197.16" y="320.25" width="5.38" height="50.90" fill="#1cff00"/>
<rect x="197.16" y="305.75" width="5.38" height="14.65" fill="#68ff00"/>
<rect x="197.16" y="291.25" width="5.38" height="14.65" fill="#c0ff00"/>
<rect x="197.16" y="240.50" width="5.38" height="50.90" fill="#f4fa00"/>
<rect x="197.16" y="204.25" width="5.38" height="36.40" fill="#ffa600"/>
<rect x="197.16" y="110.00" width="5.38" height="94.40" fill="#ff4c00"/>
<rect x="197.16" y="102.00" width="5.38" height="8.00" fill="#ff1f00"/>
<rect x="202.39" y="400.00" width="5.38" height="7.40" fill="#ee10ff"/>
<rect x="202.39" y="392.75" width="5.38" height="7.40" fill="#9400ff"/>
<rect x="202.39" y="356.50" width="5.38" height="36.40" fill="#0044ff"/>
<rect x="202.39" y="349.25" width="5.38" height="7.40" fill="#0090ff"/>
<rect x="202.39" y="342.00" width="5.38" height="7.40" fill="#00ffc0"/>
<rect x="202.39" y="334.75" width="5.38" height="7.40" fill="#00ff88"/>
<rect x="202.39" y="320.25" width="5.38" height="14.65" fill="#00ff48"/>
<rect x="202.39" y="291.25" width="5.38" height="29.15" fill="#1cff00"/>
<rect x="202.39" y="284.00" width="5.38" height="7.40" fill="#f4fa00"/>
<rect x="202.39" y="255.00" width="5.38" height="29.15" fill="#c0ff00"/>
<rect x="202.39" y="240.50" width="5.38" height="14.65" fill="#f4fa00"/>
<rect x="202.39" y="204.25" width="5.38" height="36.40" fill="#ffa600"/>
<rect x="202.39" y="110.00" width="5.38" height="94.40" fill="#ff4c00"/>
<rect x="202.39" y="102.00" width="5.38" height="8.00" fill="#ff0600"/>
<rect x="207.62" y="407.25" width="5.38" height="14.65" fill="#4c00ff"/>
<rect x="207.62" y="392.75" width="5.38" height="14.65" fill="#0044ff"/>
<rect x="207.62" y="385.50" width="5.38" height="7.40" fill="#0090ff"/>
<rect x="207.62" y="378.25" width="5.38" height="7.40" fill="#00f4f8"/>
<rect x="207.62" y="371.00" width="5.38" height="7.40" fill="#00ff88"/>
<rect x="207.62" y="327.50" width="5.38" height="43.65" fill="#1cff00"/>
<rect x="207.62" y="240.50" width="5.38" height="87.15" fill="#f4fa00"/>
<rect x="207.62" y="204.25" width="5.38" height="36.40" fill="#ffa600"/>
<rect x="207.62" y="110.00" width="5.38" height="94.40" fill="#ff4c00"/>
<rect x="207.62" y="102.00" width="5.38" height="8.00" fill="#ff0600"/>
<rect x="212.85" y="291.25" width="5.38" height="43.65" fill="#c800ff"/>
<rect x="212.85" y="240.50" width="5.38" height="50.90" fill="#4c00ff"/>
<rect x="212.85" y="218.75" width="5.38" height="21.90" fill="#0044ff"/>
<rect x="212.85" y="204.25" width="5.38" height="14.65" fill="#00c0ff"/>
<rect x="212.85" y="131.75" width="5.38" height="72.65" fill="#00ff48"/>
<rect x="212.85" y="110.00" width="5.38" height="21.90" fill="#c0ff00"/>
<rect x="212.85" y="102.00" width="5.38" height="8.00" fill="#ff0600"/>
<rect x="218.08" y="407.25" width="5.38" height="29.15" fill="#4c00ff"/>
<rect x="218.08" y="392.75" width="5.38" height="14.65" fill="#0090ff"/>
<rect x="218.08" y="356.50" width="5.38" height="36.40" fill="#00ffc0"/>
<rect x="218.08" y="342.00" width="5.38" height="14.65" fill="#1cff00"/>
<rect x="218.08" y="313.00" width="5.38" height="29.15" fill="#00ff48"/>
<rect x="218.08" y="255.00" width="5.38" height="58.15" fill="#1cff00"/>
<rect x="218.08" y="240.50" width="5.38" height="14.65" fill="#c0ff00"/>
<rect x="218.08" y="218.75" width="5.38" height="21.90" fill="#ffd000"/>
<rect x="218.08" y="204.25" width="5.38" height="14.65" fill="#ff7800"/>
<rect x="218.08" y="102.00" width="5.38" height="102.25" fill="#ff0600"/>
<rect x="223.31" y="407.25" width="5.38" height="7.40" fill="#ee10ff"/>
<rect x="223.31" y="400.00" width="5.38" height="7.40" fill="#4c00ff"/>
<rect x="223.31" y="385.50" width="5.38" height="14.65" fill="#0810ff"/>
<rect x="223.31" y="371.00" width="5.38" height="14.65" fill="#00f4f8"/>
<rect x="223.31" y="349.25" width="5.38" height="21.90" fill="#00ffc0"/>
<rect x="223.31" y="342.00" width="5.38" height="7.40" fill="#00ff48"/>
<rect x="223.31" y="334.75" width="5.38" height="7.40" fill="#00ff88"/>
<rect x="223.31" y="320.25" width="5.38" height="14.65" fill="#1cff00"/>
<rect x="223.31" y="305.75" width="5.38" height="14.65" fill="#68ff00"/>
<rect x="223.31" y="291.25" width="5.38" height="14.65" fill="#f4fa00"/>
<rect x="223.31" y="218.75" width="5.38" height="72.65" fill="#ff7800"/>
<rect x="223.31" y="204.25" width="5.38" height="14.65" fill="#ff4c00"/>
<rect x="223.31" y="102.00" width="5.38" height="102.25" fill="#ff0600"/>
<rect x="228.54" y="356.50" width="5.38" height="50.90" fill="#4c00ff"/>
<rect x="228.54" y="349.25" width="5.38" height="7.40" fill="#0810ff"/>
<rect x="228.54" y="291.25" width="5.38" height="58.15" fill="#0090ff"/>
<rect x="228.54" y="240.50" width="5.38" height="50.90" fill="#00f4f8"/>
<rect x="228.54" y="204.25" width="5.38" height="36.40" fill="#00ff88"/>
<rect x="228.54" y="131.75" width="5.38" height="72.65" fill="#1cff00"/>
<rect x="228.54" y="110.00" width="5.38" height="21.90" fill="#c0ff00"/>
<rect x="228.54" y="102.00" width="5.38" height="8.00" fill="#ff7800"/>
<rect x="233.78" y="371.00" width="5.38" height="36.40" fill="#9400ff"/>
<rect x="233.78" y="356.50" width="5.38" height="14.65" fill="#0044ff"/>
<rect x="233.78" y="342.00" width="5.38" height="14.65" fill="#00ff48"/>
<rect x="233.78" y="327.50" width="5.38" height="14.65" fill="#00ff88"/>
<rect x="233.78" y="218.75" width="5.38" height="108.90" fill="#1cff00"/>
<rect x="233.78" y="204.25" width="5.38" height="14.65" fill="#c0ff00"/>
<rect x="233.78" y="102.00" width="5.38" height="102.25" fill="#ff0600"/>
<rect x="239.01" y="392.75" width="5.38" height="36.40" fill="#0810ff"/>
<rect x="239.01" y="371.00" width="5.38" height="21.90" fill="#0090ff"/>
<rect x="239.01" y="327.50" width="5.38" height="43.65" fill="#00ffc0"/>
<rect x="239.01" y="313.00" width="5.38" height="14.65" fill="#1cff00"/>
<rect x="239.01" y="291.25" width="5.38" height="21.90" fill="#68ff00"/>
<rect x="239.01" y="218.75" width="5.38" height="72.65" fill="#f4fa00"/>
<rect x="239.01" y="204.25" width="5.38" height="14.65" fill="#ffa600"/>
<rect x="239.01" y="102.00" width="5.38" height="102.25" fill="#ff0600"/>
<rect x="244.24" y="356.50" width="5.38" height="72.65" fill="#4c00ff"/>
<rect x="244.24" y="240.50" width="5.38" height="116.15" fill="#0090ff"/>
<rect x="244.24" y="218.75" width="5.38" height="21.90" fill="#00ff88"/>
<rect x="244.24" y="131.75" width="5.38" height="87.15" fill="#ffd000"/>
<rect x="244.24" y="102.00" width="5.38" height="29.75" fill="#ff0600"/>
<rect x="249.47" y="327.50" width="5.38" height="21.90" fill="#9400ff"/>
<rect x="249.47" y="313.00" width="5.38" height="14.65" fill="#0044ff"/>
<rect x="249.47" y="291.25" width="5.38" height="21.90" fill="#00ff88"/>
<rect x="249.47" y="204.25" width="5.38" height="87.15" fill="#1cff00"/>
<rect x="249.47" y="102.00" width="5.38" height="102.25" fill="#ff0600"/>
<rect x="254.70" y="102.00" width="5.38" height="189.25" fill="#ff0600"/>
<rect x="259.93" y="291.25" width="5.38" height="65.40" fill="#4c00ff"/>
<rect x="259.93" y="218.75" width="5.38" height="72.65" fill="#00f4f8"/>
<rect x="259.93" y="204.25" width="5.38" height="14.65" fill="#68ff00"/>
<rect x="259.93" y="102.00" width="5.38" height="102.25" fill="#ff0600"/>
<rect x="265.16" y="204.25" width="5.38" height="14.65" fill="#1cff00"/>
<rect x="265.16" y="102.00" width="5.38" height="102.25" fill="#ff0600"/>
<rect x="270.39" y="218.75" width="5.38" height="72.65" fill="#0090ff"/>
<rect x="270.39" y="204.25" width="5.38" height="14.65" fill="#1cff00"/>
<rect x="270.39" y="102.00" width="5.38" height="102.25" fill="#ff0600"/>
<rect x="275.62" y="291.25" width="5.38" height="50.90" fill="#0090ff"/>
<rect x="275.62" y="218.75" width="5.38" height="72.65" fill="#68ff00"/>
<rect x="275.62" y="204.25" width="5.38" height="14.65" fill="#1cff00"/>
<rect x="275.62" y="102.00" width="5.38" height="102.25" fill="#ff0600"/>
<rect x="280.85" y="218.75" width="5.38" height="152.40" fill="#0090ff"/>
<rect x="280.85" y="131.75" width="5.38" height="87.15" fill="#1cff00"/>
<rect x="280.85" y="102.00" width="5.38" height="29.75" fill="#ff0600"/>
<rect x="291.32" y="102.00" width="5.38" height="116.75" fill="#ff0600"/>
<rect x="296.55" y="218.75" width="5.38" height="94.40" fill="#00ff88"/>
<rect x="296.55" y="102.00" width="5.38" height="116.75" fill="#ff0600"/>
<rect x="307.01" y="102.00" width="5.38" height="29.75" fill="#ff0600"/>
<rect x="312.24" y="102.00" width="5.38" height="211.00" fill="#ff0600"/>
<rect x="317.47" y="102.00" width="5.38" height="29.75" fill="#ff0600"/>
<rect x="327.93" y="313.00" width="5.38" height="79.90" fill="#00ff88"/>
<rect x="327.93" y="102.00" width="5.38" height="211.00" fill="#ff0600"/>
<rect x="348.86" y="102.00" width="5.38" height="102.25" fill="#ff0600"/>
</g>
<!-- right panel -->
<g>
<line x1="380.55" y1="102.2" x2="380.55" y2="458.7" stroke="#efedc6" stroke-width="1.1"/>
<line x1="392.24" y1="102.2" x2="392.24" y2="458.7" stroke="#efedc6" stroke-width="1.1"/>
<line x1="403.93" y1="102.2" x2="403.93" y2="458.7" stroke="#efedc6" stroke-width="1.1"/>
<line x1="415.61" y1="102.2" x2="415.61" y2="458.7" stroke="#efedc6" stroke-width="1.1"/>
<line x1="427.30" y1="102.2" x2="427.30" y2="458.7" stroke="#505050" stroke-width="1.1" stroke-dasharray="5 2.2 1.2 2.2"/>
<line x1="438.99" y1="102.2" x2="438.99" y2="458.7" stroke="#efedc6" stroke-width="1.1"/>
<line x1="450.67" y1="102.2" x2="450.67" y2="458.7" stroke="#efedc6" stroke-width="1.1"/>
<line x1="462.36" y1="102.2" x2="462.36" y2="458.7" stroke="#efedc6" stroke-width="1.1"/>
<line x1="474.05" y1="102.2" x2="474.05" y2="458.7" stroke="#efedc6" stroke-width="1.1"/>
<line x1="485.74" y1="102.2" x2="485.74" y2="458.7" stroke="#505050" stroke-width="1.1" stroke-dasharray="5 2.2 1.2 2.2"/>
<line x1="497.42" y1="102.2" x2="497.42" y2="458.7" stroke="#efedc6" stroke-width="1.1"/>
<line x1="509.11" y1="102.2" x2="509.11" y2="458.7" stroke="#efedc6" stroke-width="1.1"/>
<line x1="520.80" y1="102.2" x2="520.80" y2="458.7" stroke="#efedc6" stroke-width="1.1"/>
<line x1="532.48" y1="102.2" x2="532.48" y2="458.7" stroke="#efedc6" stroke-width="1.1"/>
<line x1="544.17" y1="102.2" x2="544.17" y2="458.7" stroke="#505050" stroke-width="1.1" stroke-dasharray="5 2.2 1.2 2.2"/>
<line x1="555.86" y1="102.2" x2="555.86" y2="458.7" stroke="#efedc6" stroke-width="1.1"/>
<line x1="567.54" y1="102.2" x2="567.54" y2="458.7" stroke="#efedc6" stroke-width="1.1"/>
<line x1="579.23" y1="102.2" x2="579.23" y2="458.7" stroke="#efedc6" stroke-width="1.1"/>
<line x1="590.92" y1="102.2" x2="590.92" y2="458.7" stroke="#efedc6" stroke-width="1.1"/>
<line x1="602.61" y1="102.2" x2="602.61" y2="458.7" stroke="#505050" stroke-width="1.1" stroke-dasharray="5 2.2 1.2 2.2"/>
<line x1="614.29" y1="102.2" x2="614.29" y2="458.7" stroke="#efedc6" stroke-width="1.1"/>
<line x1="625.98" y1="102.2" x2="625.98" y2="458.7" stroke="#efedc6" stroke-width="1.1"/>
<line x1="637.67" y1="102.2" x2="637.67" y2="458.7" stroke="#efedc6" stroke-width="1.1"/>
<line x1="649.35" y1="102.2" x2="649.35" y2="458.7" stroke="#efedc6" stroke-width="1.1"/>
<line x1="661.04" y1="102.2" x2="661.04" y2="458.7" stroke="#505050" stroke-width="1.1" stroke-dasharray="5 2.2 1.2 2.2"/>
<line x1="672.73" y1="102.2" x2="672.73" y2="458.7" stroke="#efedc6" stroke-width="1.1"/>
<line x1="378.2" y1="458.05" x2="678.2" y2="458.05" stroke="#efedc6" stroke-width="1.1"/>
<line x1="378.2" y1="447.80" x2="678.2" y2="447.80" stroke="#505050" stroke-width="1.1" stroke-dasharray="5 2.2 1.2 2.2"/>
<line x1="378.2" y1="437.55" x2="678.2" y2="437.55" stroke="#efedc6" stroke-width="1.1"/>
<line x1="378.2" y1="427.30" x2="678.2" y2="427.30" stroke="#efedc6" stroke-width="1.1"/>
<line x1="378.2" y1="417.05" x2="678.2" y2="417.05" stroke="#efedc6" stroke-width="1.1"/>
<line x1="378.2" y1="406.80" x2="678.2" y2="406.80" stroke="#efedc6" stroke-width="1.1"/>
<line x1="378.2" y1="396.55" x2="678.2" y2="396.55" stroke="#505050" stroke-width="1.1" stroke-dasharray="5 2.2 1.2 2.2"/>
<line x1="378.2" y1="386.30" x2="678.2" y2="386.30" stroke="#efedc6" stroke-width="1.1"/>
<line x1="378.2" y1="376.05" x2="678.2" y2="376.05" stroke="#efedc6" stroke-width="1.1"/>
<line x1="378.2" y1="365.80" x2="678.2" y2="365.80" stroke="#efedc6" stroke-width="1.1"/>
<line x1="378.2" y1="355.55" x2="678.2" y2="355.55" stroke="#efedc6" stroke-width="1.1"/>
<line x1="378.2" y1="345.30" x2="678.2" y2="345.30" stroke="#505050" stroke-width="1.1" stroke-dasharray="5 2.2 1.2 2.2"/>
<line x1="378.2" y1="335.05" x2="678.2" y2="335.05" stroke="#efedc6" stroke-width="1.1"/>
<line x1="378.2" y1="324.80" x2="678.2" y2="324.80" stroke="#efedc6" stroke-width="1.1"/>
<line x1="378.2" y1="314.55" x2="678.2" y2="314.55" stroke="#efedc6" stroke-width="1.1"/>
<line x1="378.2" y1="304.30" x2="678.2" y2="304.30" stroke="#efedc6" stroke-width="1.1"/>
<line x1="378.2" y1="294.05" x2="678.2" y2="294.05" stroke="#505050" stroke-width="1.1" stroke-dasharray="5 2.2 1.2 2.2"/>
<line x1="378.2" y1="283.80" x2="678.2" y2="283.80" stroke="#efedc6" stroke-width="1.1"/>
<line x1="378.2" y1="273.55" x2="678.2" y2="273.55" stroke="#efedc6" stroke-width="1.1"/>
<line x1="378.2" y1="263.30" x2="678.2" y2="263.30" stroke="#efedc6" stroke-width="1.1"/>
<line x1="378.2" y1="253.05" x2="678.2" y2="253.05" stroke="#efedc6" stroke-width="1.1"/>
<line x1="378.2" y1="242.80" x2="678.2" y2="242.80" stroke="#505050" stroke-width="1.1" stroke-dasharray="5 2.2 1.2 2.2"/>
<line x1="378.2" y1="232.55" x2="678.2" y2="232.55" stroke="#efedc6" stroke-width="1.1"/>
<line x1="378.2" y1="222.30" x2="678.2" y2="222.30" stroke="#efedc6" stroke-width="1.1"/>
<line x1="378.2" y1="212.05" x2="678.2" y2="212.05" stroke="#efedc6" stroke-width="1.1"/>
<line x1="378.2" y1="201.80" x2="678.2" y2="201.80" stroke="#efedc6" stroke-width="1.1"/>
<line x1="378.2" y1="191.55" x2="678.2" y2="191.55" stroke="#505050" stroke-width="1.1" stroke-dasharray="5 2.2 1.2 2.2"/>
<line x1="378.2" y1="181.30" x2="678.2" y2="181.30" stroke="#efedc6" stroke-width="1.1"/>
<line x1="378.2" y1="171.05" x2="678.2" y2="171.05" stroke="#efedc6" stroke-width="1.1"/>
<line x1="378.2" y1="160.80" x2="678.2" y2="160.80" stroke="#efedc6" stroke-width="1.1"/>
<line x1="378.2" y1="150.55" x2="678.2" y2="150.55" stroke="#efedc6" stroke-width="1.1"/>
<line x1="378.2" y1="140.30" x2="678.2" y2="140.30" stroke="#505050" stroke-width="1.1" stroke-dasharray="5 2.2 1.2 2.2"/>
<line x1="378.2" y1="130.05" x2="678.2" y2="130.05" stroke="#efedc6" stroke-width="1.1"/>
<line x1="378.2" y1="119.80" x2="678.2" y2="119.80" stroke="#efedc6" stroke-width="1.1"/>
<line x1="378.2" y1="109.55" x2="678.2" y2="109.55" stroke="#efedc6" stroke-width="1.1"/>
</g>
<path d="M378.8 101.85V459.45M678.2 101.85V459.45M378.15 102.5H678.85M378.15 458.8H678.85" fill="none" stroke="#000" stroke-width="1.3"/>
<g filter="url(#bl)" shape-rendering="crispEdges">
<rect x="378.00" y="435.76" width="0.75" height="5.71" fill="#ee10ff"/>
<rect x="378.00" y="430.20" width="0.75" height="5.71" fill="#c800ff"/>
<rect x="378.00" y="419.08" width="0.75" height="11.27" fill="#9400ff"/>
<rect x="378.00" y="407.96" width="0.75" height="11.27" fill="#0090ff"/>
<rect x="378.00" y="402.40" width="0.75" height="5.71" fill="#00c0ff"/>
<rect x="378.00" y="396.84" width="0.75" height="5.71" fill="#00f4f8"/>
<rect x="378.00" y="391.28" width="0.75" height="5.71" fill="#00ffc0"/>
<rect x="378.00" y="385.72" width="0.75" height="5.71" fill="#00ff48"/>
<rect x="378.00" y="357.92" width="0.75" height="27.95" fill="#1cff00"/>
<rect x="378.00" y="346.80" width="0.75" height="11.27" fill="#c0ff00"/>
<rect x="378.00" y="319.00" width="0.75" height="27.95" fill="#ffd000"/>
<rect x="378.00" y="302.32" width="0.75" height="16.83" fill="#ffa600"/>
<rect x="378.00" y="296.76" width="0.75" height="5.71" fill="#ff7800"/>
<rect x="378.00" y="268.96" width="0.75" height="27.95" fill="#ff4c00"/>
<rect x="378.00" y="235.60" width="0.75" height="33.51" fill="#ff1f00"/>
<rect x="378.00" y="102.00" width="0.75" height="133.60" fill="#ff0600"/>
<rect x="378.60" y="435.76" width="4.82" height="5.71" fill="#ee10ff"/>
<rect x="378.60" y="430.20" width="4.82" height="5.71" fill="#c800ff"/>
<rect x="378.60" y="419.08" width="4.82" height="11.27" fill="#9400ff"/>
<rect x="378.60" y="407.96" width="4.82" height="11.27" fill="#0090ff"/>
<rect x="378.60" y="402.40" width="4.82" height="5.71" fill="#00c0ff"/>
<rect x="378.60" y="396.84" width="4.82" height="5.71" fill="#00f4f8"/>
<rect x="378.60" y="391.28" width="4.82" height="5.71" fill="#00ffc0"/>
<rect x="378.60" y="385.72" width="4.82" height="5.71" fill="#00ff48"/>
<rect x="378.60" y="357.92" width="4.82" height="27.95" fill="#1cff00"/>
<rect x="378.60" y="346.80" width="4.82" height="11.27" fill="#c0ff00"/>
<rect x="378.60" y="319.00" width="4.82" height="27.95" fill="#ffd000"/>
<rect x="378.60" y="302.32" width="4.82" height="16.83" fill="#ffa600"/>
<rect x="378.60" y="296.76" width="4.82" height="5.71" fill="#ff7800"/>
<rect x="378.60" y="268.96" width="4.82" height="27.95" fill="#ff4c00"/>
<rect x="378.60" y="235.60" width="4.82" height="33.51" fill="#ff1f00"/>
<rect x="378.60" y="102.00" width="4.82" height="133.60" fill="#ff0600"/>
<rect x="383.27" y="452.44" width="4.83" height="5.71" fill="#ee10ff"/>
<rect x="383.27" y="446.88" width="4.83" height="5.71" fill="#c800ff"/>
<rect x="383.27" y="441.32" width="4.83" height="5.71" fill="#9400ff"/>
<rect x="383.27" y="430.20" width="4.83" height="11.27" fill="#4c00ff"/>
<rect x="383.27" y="419.08" width="4.83" height="11.27" fill="#0044ff"/>
<rect x="383.27" y="413.52" width="4.83" height="5.71" fill="#0090ff"/>
<rect x="383.27" y="402.40" width="4.83" height="11.27" fill="#00f4f8"/>
<rect x="383.27" y="391.28" width="4.83" height="11.27" fill="#00ffc0"/>
<rect x="383.27" y="380.16" width="4.83" height="11.27" fill="#00ff48"/>
<rect x="383.27" y="363.48" width="4.83" height="16.83" fill="#1cff00"/>
<rect x="383.27" y="357.92" width="4.83" height="5.71" fill="#68ff00"/>
<rect x="383.27" y="346.80" width="4.83" height="11.27" fill="#c0ff00"/>
<rect x="383.27" y="330.12" width="4.83" height="16.83" fill="#f4fa00"/>
<rect x="383.27" y="324.56" width="4.83" height="5.71" fill="#ffd000"/>
<rect x="383.27" y="291.20" width="4.83" height="33.51" fill="#ffa600"/>
<rect x="383.27" y="263.40" width="4.83" height="27.95" fill="#ff7800"/>
<rect x="383.27" y="207.80" width="4.83" height="55.75" fill="#ff4c00"/>
<rect x="383.27" y="107.72" width="4.83" height="100.23" fill="#ff1f00"/>
<rect x="383.27" y="102.00" width="4.83" height="5.72" fill="#ff0600"/>
<rect x="387.95" y="452.44" width="4.83" height="5.71" fill="#ee10ff"/>
<rect x="387.95" y="435.76" width="4.83" height="16.83" fill="#4c00ff"/>
<rect x="387.95" y="430.20" width="4.83" height="5.71" fill="#0810ff"/>
<rect x="387.95" y="424.64" width="4.83" height="5.71" fill="#00c0ff"/>
<rect x="387.95" y="419.08" width="4.83" height="5.71" fill="#00f4f8"/>
<rect x="387.95" y="413.52" width="4.83" height="5.71" fill="#00ffc0"/>
<rect x="387.95" y="407.96" width="4.83" height="5.71" fill="#00ff48"/>
<rect x="387.95" y="402.40" width="4.83" height="5.71" fill="#1cff00"/>
<rect x="387.95" y="380.16" width="4.83" height="22.39" fill="#68ff00"/>
<rect x="387.95" y="374.60" width="4.83" height="5.71" fill="#c0ff00"/>
<rect x="387.95" y="369.04" width="4.83" height="5.71" fill="#f4fa00"/>
<rect x="387.95" y="363.48" width="4.83" height="5.71" fill="#ffa600"/>
<rect x="387.95" y="352.36" width="4.83" height="11.27" fill="#ff7800"/>
<rect x="387.95" y="307.88" width="4.83" height="44.63" fill="#ff4c00"/>
<rect x="387.95" y="291.20" width="4.83" height="16.83" fill="#ff1f00"/>
<rect x="387.95" y="102.00" width="4.83" height="189.20" fill="#ff0600"/>
<rect x="392.62" y="452.44" width="4.83" height="5.71" fill="#ee10ff"/>
<rect x="392.62" y="446.88" width="4.83" height="5.71" fill="#4c00ff"/>
<rect x="392.62" y="441.32" width="4.83" height="5.71" fill="#0810ff"/>
<rect x="392.62" y="435.76" width="4.83" height="5.71" fill="#0044ff"/>
<rect x="392.62" y="430.20" width="4.83" height="5.71" fill="#0090ff"/>
<rect x="392.62" y="424.64" width="4.83" height="5.71" fill="#00f4f8"/>
<rect x="392.62" y="419.08" width="4.83" height="5.71" fill="#00ffc0"/>
<rect x="392.62" y="413.52" width="4.83" height="5.71" fill="#1cff00"/>
<rect x="392.62" y="407.96" width="4.83" height="5.71" fill="#68ff00"/>
<rect x="392.62" y="402.40" width="4.83" height="5.71" fill="#c0ff00"/>
<rect x="392.62" y="396.84" width="4.83" height="5.71" fill="#ffd000"/>
<rect x="392.62" y="391.28" width="4.83" height="5.71" fill="#f4fa00"/>
<rect x="392.62" y="385.72" width="4.83" height="5.71" fill="#ffd000"/>
<rect x="392.62" y="380.16" width="4.83" height="5.71" fill="#ff7800"/>
<rect x="392.62" y="374.60" width="4.83" height="5.71" fill="#ff4c00"/>
<rect x="392.62" y="291.20" width="4.83" height="83.55" fill="#ff1f00"/>
<rect x="392.62" y="102.00" width="4.83" height="189.20" fill="#ff0600"/>
<rect x="397.30" y="452.44" width="4.83" height="5.71" fill="#ff70ff"/>
<rect x="397.30" y="446.88" width="4.83" height="5.71" fill="#9400ff"/>
<rect x="397.30" y="435.76" width="4.83" height="11.27" fill="#4c00ff"/>
<rect x="397.30" y="430.20" width="4.83" height="5.71" fill="#0044ff"/>
<rect x="397.30" y="419.08" width="4.83" height="11.27" fill="#00c0ff"/>
<rect x="397.30" y="413.52" width="4.83" height="5.71" fill="#00ff88"/>
<rect x="397.30" y="402.40" width="4.83" height="11.27" fill="#1cff00"/>
<rect x="397.30" y="380.16" width="4.83" height="22.39" fill="#68ff00"/>
<rect x="397.30" y="374.60" width="4.83" height="5.71" fill="#c0ff00"/>
<rect x="397.30" y="363.48" width="4.83" height="11.27" fill="#f4fa00"/>
<rect x="397.30" y="346.80" width="4.83" height="16.83" fill="#ffd000"/>
<rect x="397.30" y="307.88" width="4.83" height="39.07" fill="#ff7800"/>
<rect x="397.30" y="296.76" width="4.83" height="11.27" fill="#ff4c00"/>
<rect x="397.30" y="291.20" width="4.83" height="5.71" fill="#ff7800"/>
<rect x="397.30" y="241.16" width="4.83" height="50.19" fill="#ff4c00"/>
<rect x="397.30" y="102.00" width="4.83" height="139.16" fill="#ff0600"/>
<rect x="401.98" y="441.32" width="4.82" height="5.71" fill="#ee10ff"/>
<rect x="401.98" y="435.76" width="4.82" height="5.71" fill="#9400ff"/>
<rect x="401.98" y="413.52" width="4.82" height="22.39" fill="#0044ff"/>
<rect x="401.98" y="407.96" width="4.82" height="5.71" fill="#00c0ff"/>
<rect x="401.98" y="402.40" width="4.82" height="5.71" fill="#00f4f8"/>
<rect x="401.98" y="391.28" width="4.82" height="11.27" fill="#00ff88"/>
<rect x="401.98" y="380.16" width="4.82" height="11.27" fill="#00ff48"/>
<rect x="401.98" y="352.36" width="4.82" height="27.95" fill="#1cff00"/>
<rect x="401.98" y="302.32" width="4.82" height="50.19" fill="#68ff00"/>
<rect x="401.98" y="291.20" width="4.82" height="11.27" fill="#c0ff00"/>
<rect x="401.98" y="252.28" width="4.82" height="39.07" fill="#f4fa00"/>
<rect x="401.98" y="246.72" width="4.82" height="5.71" fill="#ffa600"/>
<rect x="401.98" y="185.56" width="4.82" height="61.31" fill="#ff4c00"/>
<rect x="401.98" y="102.00" width="4.82" height="83.56" fill="#ff0600"/>
<rect x="406.65" y="452.44" width="4.83" height="5.71" fill="#ee10ff"/>
<rect x="406.65" y="446.88" width="4.83" height="5.71" fill="#9400ff"/>
<rect x="406.65" y="435.76" width="4.83" height="11.27" fill="#0810ff"/>
<rect x="406.65" y="424.64" width="4.83" height="11.27" fill="#0044ff"/>
<rect x="406.65" y="407.96" width="4.83" height="16.83" fill="#0090ff"/>
<rect x="406.65" y="402.40" width="4.83" height="5.71" fill="#00f4f8"/>
<rect x="406.65" y="396.84" width="4.83" height="5.71" fill="#1cff00"/>
<rect x="406.65" y="391.28" width="4.83" height="5.71" fill="#68ff00"/>
<rect x="406.65" y="380.16" width="4.83" height="11.27" fill="#c0ff00"/>
<rect x="406.65" y="346.80" width="4.83" height="33.51" fill="#f4fa00"/>
<rect x="406.65" y="330.12" width="4.83" height="16.83" fill="#ffd000"/>
<rect x="406.65" y="319.00" width="4.83" height="11.27" fill="#ffa600"/>
<rect x="406.65" y="263.40" width="4.83" height="55.75" fill="#ff7800"/>
<rect x="406.65" y="252.28" width="4.83" height="11.27" fill="#ff4c00"/>
<rect x="406.65" y="235.60" width="4.83" height="16.83" fill="#ff1f00"/>
<rect x="406.65" y="102.00" width="4.83" height="133.60" fill="#ff0600"/>
<rect x="411.32" y="446.88" width="4.83" height="11.27" fill="#ff70ff"/>
<rect x="411.32" y="441.32" width="4.83" height="5.71" fill="#ee10ff"/>
<rect x="411.32" y="435.76" width="4.83" height="5.71" fill="#c800ff"/>
<rect x="411.32" y="430.20" width="4.83" height="5.71" fill="#9400ff"/>
<rect x="411.32" y="419.08" width="4.83" height="11.27" fill="#0810ff"/>
<rect x="411.32" y="402.40" width="4.83" height="16.83" fill="#0090ff"/>
<rect x="411.32" y="380.16" width="4.83" height="22.39" fill="#00c0ff"/>
<rect x="411.32" y="369.04" width="4.83" height="11.27" fill="#00f4f8"/>
<rect x="411.32" y="363.48" width="4.83" height="5.71" fill="#00ffc0"/>
<rect x="411.32" y="357.92" width="4.83" height="5.71" fill="#00ff88"/>
<rect x="411.32" y="352.36" width="4.83" height="5.71" fill="#1cff00"/>
<rect x="411.32" y="346.80" width="4.83" height="5.71" fill="#68ff00"/>
<rect x="411.32" y="324.56" width="4.83" height="22.39" fill="#f4fa00"/>
<rect x="411.32" y="296.76" width="4.83" height="27.95" fill="#ffa600"/>
<rect x="411.32" y="263.40" width="4.83" height="33.51" fill="#ff7800"/>
<rect x="411.32" y="207.80" width="4.83" height="55.75" fill="#ff4c00"/>
<rect x="411.32" y="107.72" width="4.83" height="100.23" fill="#ff1f00"/>
<rect x="411.32" y="102.00" width="4.83" height="5.72" fill="#ff0600"/>
<rect x="416.00" y="441.32" width="4.83" height="16.83" fill="#ff70ff"/>
<rect x="416.00" y="435.76" width="4.83" height="5.71" fill="#ee10ff"/>
<rect x="416.00" y="430.20" width="4.83" height="5.71" fill="#9400ff"/>
<rect x="416.00" y="424.64" width="4.83" height="5.71" fill="#4c00ff"/>
<rect x="416.00" y="419.08" width="4.83" height="5.71" fill="#0810ff"/>
<rect x="416.00" y="413.52" width="4.83" height="5.71" fill="#0044ff"/>
<rect x="416.00" y="402.40" width="4.83" height="11.27" fill="#0090ff"/>
<rect x="416.00" y="391.28" width="4.83" height="11.27" fill="#00f4f8"/>
<rect x="416.00" y="380.16" width="4.83" height="11.27" fill="#00ff88"/>
<rect x="416.00" y="374.60" width="4.83" height="5.71" fill="#00ff48"/>
<rect x="416.00" y="357.92" width="4.83" height="16.83" fill="#1cff00"/>
<rect x="416.00" y="346.80" width="4.83" height="11.27" fill="#f4fa00"/>
<rect x="416.00" y="324.56" width="4.83" height="22.39" fill="#ffd000"/>
<rect x="416.00" y="302.32" width="4.83" height="22.39" fill="#ffa600"/>
<rect x="416.00" y="263.40" width="4.83" height="39.07" fill="#ff7800"/>
<rect x="416.00" y="207.80" width="4.83" height="55.75" fill="#ff4c00"/>
<rect x="416.00" y="102.00" width="4.83" height="105.80" fill="#ff0600"/>
<rect x="420.68" y="430.20" width="4.83" height="11.27" fill="#ff70ff"/>
<rect x="420.68" y="419.08" width="4.83" height="11.27" fill="#ee10ff"/>
<rect x="420.68" y="413.52" width="4.83" height="5.71" fill="#4c00ff"/>
<rect x="420.68" y="407.96" width="4.83" height="5.71" fill="#0044ff"/>
<rect x="420.68" y="402.40" width="4.83" height="5.71" fill="#0810ff"/>
<rect x="420.68" y="385.72" width="4.83" height="16.83" fill="#0044ff"/>
<rect x="420.68" y="380.16" width="4.83" height="5.71" fill="#0090ff"/>
<rect x="420.68" y="374.60" width="4.83" height="5.71" fill="#00c0ff"/>
<rect x="420.68" y="363.48" width="4.83" height="11.27" fill="#00f4f8"/>
<rect x="420.68" y="357.92" width="4.83" height="5.71" fill="#00ffc0"/>
<rect x="420.68" y="346.80" width="4.83" height="11.27" fill="#1cff00"/>
<rect x="420.68" y="330.12" width="4.83" height="16.83" fill="#68ff00"/>
<rect x="420.68" y="313.44" width="4.83" height="16.83" fill="#c0ff00"/>
<rect x="420.68" y="280.08" width="4.83" height="33.51" fill="#f4fa00"/>
<rect x="420.68" y="263.40" width="4.83" height="16.83" fill="#ffa600"/>
<rect x="420.68" y="207.80" width="4.83" height="55.75" fill="#ff7800"/>
<rect x="420.68" y="185.56" width="4.83" height="22.39" fill="#ff4c00"/>
<rect x="420.68" y="107.72" width="4.83" height="77.99" fill="#ff1f00"/>
<rect x="420.68" y="102.00" width="4.83" height="5.72" fill="#ff0600"/>
<rect x="425.35" y="413.52" width="4.82" height="16.83" fill="#ee10ff"/>
<rect x="425.35" y="407.96" width="4.82" height="5.71" fill="#c800ff"/>
<rect x="425.35" y="402.40" width="4.82" height="5.71" fill="#9400ff"/>
<rect x="425.35" y="391.28" width="4.82" height="11.27" fill="#0810ff"/>
<rect x="425.35" y="385.72" width="4.82" height="5.71" fill="#0090ff"/>
<rect x="425.35" y="374.60" width="4.82" height="11.27" fill="#00f4f8"/>
<rect x="425.35" y="369.04" width="4.82" height="5.71" fill="#00ff88"/>
<rect x="425.35" y="363.48" width="4.82" height="5.71" fill="#00ff48"/>
<rect x="425.35" y="346.80" width="4.82" height="16.83" fill="#1cff00"/>
<rect x="425.35" y="324.56" width="4.82" height="22.39" fill="#c0ff00"/>
<rect x="425.35" y="252.28" width="4.82" height="72.43" fill="#f4fa00"/>
<rect x="425.35" y="241.16" width="4.82" height="11.27" fill="#ffd000"/>
<rect x="425.35" y="107.72" width="4.82" height="133.59" fill="#ff1f00"/>
<rect x="425.35" y="102.00" width="4.82" height="5.72" fill="#ff0600"/>
<rect x="430.02" y="413.52" width="4.83" height="5.71" fill="#9400ff"/>
<rect x="430.02" y="407.96" width="4.83" height="5.71" fill="#4c00ff"/>
<rect x="430.02" y="402.40" width="4.83" height="5.71" fill="#0810ff"/>
<rect x="430.02" y="396.84" width="4.83" height="5.71" fill="#0044ff"/>
<rect x="430.02" y="391.28" width="4.83" height="5.71" fill="#0090ff"/>
<rect x="430.02" y="385.72" width="4.83" height="5.71" fill="#00c0ff"/>
<rect x="430.02" y="380.16" width="4.83" height="5.71" fill="#00f4f8"/>
<rect x="430.02" y="374.60" width="4.83" height="5.71" fill="#00ff88"/>
<rect x="430.02" y="369.04" width="4.83" height="5.71" fill="#00ff48"/>
<rect x="430.02" y="352.36" width="4.83" height="16.83" fill="#1cff00"/>
<rect x="430.02" y="341.24" width="4.83" height="11.27" fill="#68ff00"/>
<rect x="430.02" y="330.12" width="4.83" height="11.27" fill="#c0ff00"/>
<rect x="430.02" y="324.56" width="4.83" height="5.71" fill="#f4fa00"/>
<rect x="430.02" y="291.20" width="4.83" height="33.51" fill="#ffd000"/>
<rect x="430.02" y="241.16" width="4.83" height="50.19" fill="#ff7800"/>
<rect x="430.02" y="235.60" width="4.83" height="5.71" fill="#ffa600"/>
<rect x="430.02" y="102.00" width="4.83" height="133.60" fill="#ff0600"/>
<rect x="434.70" y="385.72" width="4.83" height="5.71" fill="#0810ff"/>
<rect x="434.70" y="363.48" width="4.83" height="22.39" fill="#0090ff"/>
<rect x="434.70" y="346.80" width="4.83" height="16.83" fill="#00c0ff"/>
<rect x="434.70" y="330.12" width="4.83" height="16.83" fill="#0090ff"/>
<rect x="434.70" y="319.00" width="4.83" height="11.27" fill="#00ff88"/>
<rect x="434.70" y="302.32" width="4.83" height="16.83" fill="#68ff00"/>
<rect x="434.70" y="252.28" width="4.83" height="50.19" fill="#ffd000"/>
<rect x="434.70" y="102.00" width="4.83" height="150.28" fill="#ff0600"/>
<rect x="439.38" y="407.96" width="4.83" height="11.27" fill="#ee10ff"/>
<rect x="439.38" y="402.40" width="4.83" height="5.71" fill="#c800ff"/>
<rect x="439.38" y="396.84" width="4.83" height="5.71" fill="#ee10ff"/>
<rect x="439.38" y="391.28" width="4.83" height="5.71" fill="#c800ff"/>
<rect x="439.38" y="363.48" width="4.83" height="27.95" fill="#9400ff"/>
<rect x="439.38" y="357.92" width="4.83" height="5.71" fill="#4c00ff"/>
<rect x="439.38" y="346.80" width="4.83" height="11.27" fill="#0044ff"/>
<rect x="439.38" y="324.56" width="4.83" height="22.39" fill="#00f4f8"/>
<rect x="439.38" y="319.00" width="4.83" height="5.71" fill="#00ffc0"/>
<rect x="439.38" y="296.76" width="4.83" height="22.39" fill="#00ff88"/>
<rect x="439.38" y="280.08" width="4.83" height="16.83" fill="#1cff00"/>
<rect x="439.38" y="263.40" width="4.83" height="16.83" fill="#68ff00"/>
<rect x="439.38" y="241.16" width="4.83" height="22.39" fill="#c0ff00"/>
<rect x="439.38" y="207.80" width="4.83" height="33.51" fill="#ffd000"/>
<rect x="439.38" y="185.56" width="4.83" height="22.39" fill="#ff4c00"/>
<rect x="439.38" y="107.72" width="4.83" height="77.99" fill="#ff1f00"/>
<rect x="439.38" y="102.00" width="4.83" height="5.72" fill="#ff0600"/>
<rect x="444.05" y="374.60" width="4.83" height="27.95" fill="#0810ff"/>
<rect x="444.05" y="369.04" width="4.83" height="5.71" fill="#0044ff"/>
<rect x="444.05" y="352.36" width="4.83" height="16.83" fill="#00c0ff"/>
<rect x="444.05" y="335.68" width="4.83" height="16.83" fill="#00f4f8"/>
<rect x="444.05" y="330.12" width="4.83" height="5.71" fill="#00ffc0"/>
<rect x="444.05" y="324.56" width="4.83" height="5.71" fill="#00ff48"/>
<rect x="444.05" y="319.00" width="4.83" height="5.71" fill="#1cff00"/>
<rect x="444.05" y="241.16" width="4.83" height="77.99" fill="#68ff00"/>
<rect x="444.05" y="107.72" width="4.83" height="133.59" fill="#ffd000"/>
<rect x="444.05" y="102.00" width="4.83" height="5.72" fill="#ff0600"/>
<rect x="448.73" y="346.80" width="4.82" height="44.63" fill="#4c00ff"/>
<rect x="448.73" y="324.56" width="4.82" height="22.39" fill="#00c0ff"/>
<rect x="448.73" y="291.20" width="4.82" height="33.51" fill="#00ff88"/>
<rect x="448.73" y="252.28" width="4.82" height="39.07" fill="#00ff48"/>
<rect x="448.73" y="246.72" width="4.82" height="5.71" fill="#68ff00"/>
<rect x="448.73" y="207.80" width="4.82" height="39.07" fill="#ffd000"/>
<rect x="448.73" y="102.00" width="4.82" height="105.80" fill="#ff0600"/>
<rect x="453.40" y="296.76" width="4.83" height="27.95" fill="#4c00ff"/>
<rect x="453.40" y="285.64" width="4.83" height="11.27" fill="#00c0ff"/>
<rect x="453.40" y="207.80" width="4.83" height="77.99" fill="#00ff48"/>
<rect x="453.40" y="107.72" width="4.83" height="100.23" fill="#68ff00"/>
<rect x="453.40" y="102.00" width="4.83" height="5.72" fill="#ff0600"/>
<rect x="458.07" y="346.80" width="4.83" height="27.95" fill="#7000ff"/>
<rect x="458.07" y="324.56" width="4.83" height="22.39" fill="#0044ff"/>
<rect x="458.07" y="252.28" width="4.83" height="72.43" fill="#00c0ff"/>
<rect x="458.07" y="246.72" width="4.83" height="5.71" fill="#68ff00"/>
<rect x="458.07" y="185.56" width="4.83" height="61.31" fill="#f4fa00"/>
<rect x="458.07" y="107.72" width="4.83" height="77.99" fill="#ff7800"/>
<rect x="458.07" y="102.00" width="4.83" height="5.72" fill="#ff0600"/>
<rect x="462.75" y="102.00" width="4.83" height="150.28" fill="#ff0600"/>
<rect x="467.43" y="324.56" width="4.83" height="22.39" fill="#4c00ff"/>
<rect x="467.43" y="319.00" width="4.83" height="5.71" fill="#00f4f8"/>
<rect x="467.43" y="307.88" width="4.83" height="11.27" fill="#1cff00"/>
<rect x="467.43" y="291.20" width="4.83" height="16.83" fill="#c0ff00"/>
<rect x="467.43" y="252.28" width="4.83" height="39.07" fill="#68ff00"/>
<rect x="467.43" y="241.16" width="4.83" height="11.27" fill="#ffa600"/>
<rect x="467.43" y="102.00" width="4.83" height="139.16" fill="#ff0600"/>
<rect x="472.10" y="346.80" width="4.82" height="39.07" fill="#7000ff"/>
<rect x="472.10" y="330.12" width="4.82" height="16.83" fill="#9400ff"/>
<rect x="472.10" y="296.76" width="4.82" height="33.51" fill="#0044ff"/>
<rect x="472.10" y="285.64" width="4.82" height="11.27" fill="#00c0ff"/>
<rect x="472.10" y="252.28" width="4.82" height="33.51" fill="#00ffc0"/>
<rect x="472.10" y="241.16" width="4.82" height="11.27" fill="#1cff00"/>
<rect x="472.10" y="207.80" width="4.82" height="33.51" fill="#f4fa00"/>
<rect x="472.10" y="185.56" width="4.82" height="22.39" fill="#ff7800"/>
<rect x="472.10" y="102.00" width="4.82" height="83.56" fill="#ff0600"/>
<rect x="476.77" y="346.80" width="4.83" height="55.75" fill="#7000ff"/>
<rect x="476.77" y="324.56" width="4.83" height="22.39" fill="#9400ff"/>
<rect x="476.77" y="291.20" width="4.83" height="33.51" fill="#0044ff"/>
<rect x="476.77" y="268.96" width="4.83" height="22.39" fill="#00c0ff"/>
<rect x="476.77" y="263.40" width="4.83" height="5.71" fill="#00f4f8"/>
<rect x="476.77" y="246.72" width="4.83" height="16.83" fill="#1cff00"/>
<rect x="476.77" y="241.16" width="4.83" height="5.71" fill="#c0ff00"/>
<rect x="476.77" y="207.80" width="4.83" height="33.51" fill="#ffa600"/>
<rect x="476.77" y="102.00" width="4.83" height="105.80" fill="#ff0600"/>
<rect x="481.45" y="352.36" width="4.83" height="5.71" fill="#0090ff"/>
<rect x="481.45" y="346.80" width="4.83" height="5.71" fill="#00f4f8"/>
<rect x="481.45" y="324.56" width="4.83" height="22.39" fill="#00c0ff"/>
<rect x="481.45" y="263.40" width="4.83" height="61.31" fill="#00ffc0"/>
<rect x="481.45" y="252.28" width="4.83" height="11.27" fill="#00ff48"/>
<rect x="481.45" y="241.16" width="4.83" height="11.27" fill="#1cff00"/>
<rect x="481.45" y="207.80" width="4.83" height="33.51" fill="#68ff00"/>
<rect x="481.45" y="185.56" width="4.83" height="22.39" fill="#f4fa00"/>
<rect x="481.45" y="107.72" width="4.83" height="77.99" fill="#ffa600"/>
<rect x="481.45" y="102.00" width="4.83" height="5.72" fill="#ff0600"/>
<rect x="486.12" y="352.36" width="4.83" height="11.27" fill="#9400ff"/>
<rect x="486.12" y="324.56" width="4.83" height="27.95" fill="#0044ff"/>
<rect x="486.12" y="291.20" width="4.83" height="33.51" fill="#00c0ff"/>
<rect x="486.12" y="285.64" width="4.83" height="5.71" fill="#00ffc0"/>
<rect x="486.12" y="280.08" width="4.83" height="5.71" fill="#1cff00"/>
<rect x="486.12" y="263.40" width="4.83" height="16.83" fill="#68ff00"/>
<rect x="486.12" y="207.80" width="4.83" height="55.75" fill="#f4fa00"/>
<rect x="486.12" y="107.72" width="4.83" height="100.23" fill="#ff7800"/>
<rect x="486.12" y="102.00" width="4.83" height="5.72" fill="#ff0600"/>
<rect x="490.80" y="252.28" width="4.83" height="44.63" fill="#00c0ff"/>
<rect x="490.80" y="241.16" width="4.83" height="11.27" fill="#68ff00"/>
<rect x="490.80" y="102.00" width="4.83" height="139.16" fill="#ff0600"/>
<rect x="495.48" y="307.88" width="4.82" height="16.83" fill="#4c00ff"/>
<rect x="495.48" y="296.76" width="4.82" height="11.27" fill="#0090ff"/>
<rect x="495.48" y="280.08" width="4.82" height="16.83" fill="#00ffc0"/>
<rect x="495.48" y="263.40" width="4.82" height="16.83" fill="#1cff00"/>
<rect x="495.48" y="207.80" width="4.82" height="55.75" fill="#68ff00"/>
<rect x="495.48" y="102.00" width="4.82" height="105.80" fill="#ff0600"/>
<rect x="500.15" y="263.40" width="4.83" height="27.95" fill="#4c00ff"/>
<rect x="500.15" y="241.16" width="4.83" height="22.39" fill="#00c0ff"/>
<rect x="500.15" y="107.72" width="4.83" height="133.59" fill="#68ff00"/>
<rect x="500.15" y="102.00" width="4.83" height="5.72" fill="#ff0600"/>
<rect x="504.82" y="252.28" width="4.83" height="55.75" fill="#0044ff"/>
<rect x="504.82" y="235.60" width="4.83" height="16.83" fill="#f4fa00"/>
<rect x="504.82" y="185.56" width="4.83" height="50.19" fill="#c0ff00"/>
<rect x="504.82" y="102.00" width="4.83" height="83.56" fill="#ff0600"/>
<rect x="509.50" y="319.00" width="4.82" height="27.95" fill="#4c00ff"/>
<rect x="509.50" y="296.76" width="4.82" height="22.39" fill="#00c0ff"/>
<rect x="509.50" y="291.20" width="4.82" height="5.71" fill="#00ff88"/>
<rect x="509.50" y="246.72" width="4.82" height="44.63" fill="#00ff48"/>
<rect x="509.50" y="241.16" width="4.82" height="5.71" fill="#68ff00"/>
<rect x="509.50" y="185.56" width="4.82" height="55.75" fill="#ffd000"/>
<rect x="509.50" y="102.00" width="4.82" height="83.56" fill="#ff0600"/>
<rect x="514.17" y="102.00" width="4.83" height="255.92" fill="#ff0600"/>
<rect x="518.85" y="346.80" width="4.82" height="11.27" fill="#00ffc0"/>
<rect x="518.85" y="291.20" width="4.82" height="55.75" fill="#1cff00"/>
<rect x="518.85" y="285.64" width="4.82" height="5.71" fill="#68ff00"/>
<rect x="518.85" y="263.40" width="4.82" height="22.39" fill="#ffa600"/>
<rect x="518.85" y="102.00" width="4.82" height="161.40" fill="#ff0600"/>
<rect x="523.52" y="102.00" width="4.83" height="83.56" fill="#ff0600"/>
<rect x="528.20" y="252.28" width="4.82" height="33.51" fill="#0044ff"/>
<rect x="528.20" y="241.16" width="4.82" height="11.27" fill="#00ff48"/>
<rect x="528.20" y="185.56" width="4.82" height="55.75" fill="#c0ff00"/>
<rect x="528.20" y="102.00" width="4.82" height="83.56" fill="#ff0600"/>
<rect x="532.88" y="291.20" width="4.82" height="33.51" fill="#00c0ff"/>
<rect x="532.88" y="185.56" width="4.82" height="105.79" fill="#68ff00"/>
<rect x="532.88" y="102.00" width="4.82" height="83.56" fill="#ff0600"/>
<rect x="537.55" y="296.76" width="4.83" height="94.67" fill="#0810ff"/>
<rect x="537.55" y="241.16" width="4.83" height="55.75" fill="#00f4f8"/>
<rect x="537.55" y="207.80" width="4.83" height="33.51" fill="#1cff00"/>
<rect x="537.55" y="185.56" width="4.83" height="22.39" fill="#f4fa00"/>
<rect x="537.55" y="102.00" width="4.83" height="83.56" fill="#ff0600"/>
<rect x="542.23" y="357.92" width="4.82" height="33.51" fill="#0810ff"/>
<rect x="542.23" y="302.32" width="4.82" height="55.75" fill="#00f4f8"/>
<rect x="542.23" y="291.20" width="4.82" height="11.27" fill="#1cff00"/>
<rect x="542.23" y="185.56" width="4.82" height="105.79" fill="#f4fa00"/>
<rect x="542.23" y="102.00" width="4.82" height="83.56" fill="#ff0600"/>
<rect x="546.90" y="346.80" width="4.83" height="5.71" fill="#0044ff"/>
<rect x="546.90" y="324.56" width="4.83" height="22.39" fill="#00ff88"/>
<rect x="546.90" y="107.72" width="4.83" height="216.99" fill="#c0ff00"/>
<rect x="546.90" y="102.00" width="4.83" height="5.72" fill="#ff0600"/>
<rect x="551.58" y="285.64" width="4.82" height="22.39" fill="#0044ff"/>
<rect x="551.58" y="252.28" width="4.82" height="33.51" fill="#00ff88"/>
<rect x="551.58" y="185.56" width="4.82" height="66.87" fill="#c0ff00"/>
<rect x="551.58" y="102.00" width="4.82" height="83.56" fill="#ff0600"/>
<rect x="556.25" y="246.72" width="4.82" height="77.99" fill="#00c0ff"/>
<rect x="556.25" y="241.16" width="4.82" height="5.71" fill="#68ff00"/>
<rect x="556.25" y="102.00" width="4.82" height="139.16" fill="#ff0600"/>
<rect x="560.92" y="246.72" width="4.83" height="44.63" fill="#0044ff"/>
<rect x="560.92" y="185.56" width="4.83" height="61.31" fill="#00ff88"/>
<rect x="560.92" y="102.00" width="4.83" height="83.56" fill="#ff0600"/>
<rect x="565.60" y="185.56" width="4.82" height="139.15" fill="#00ff88"/>
<rect x="565.60" y="102.00" width="4.82" height="83.56" fill="#ff0600"/>
<rect x="570.27" y="102.00" width="4.83" height="183.64" fill="#ff0600"/>
<rect x="574.95" y="102.00" width="4.82" height="83.56" fill="#ff0600"/>
<rect x="593.65" y="102.00" width="4.83" height="144.72" fill="#ff0600"/>
<rect x="598.33" y="102.00" width="4.82" height="144.72" fill="#ff0600"/>
<rect x="607.67" y="102.00" width="4.83" height="183.64" fill="#ff0600"/>
<rect x="617.02" y="102.00" width="4.83" height="150.28" fill="#ff0600"/>
<rect x="645.08" y="102.00" width="4.82" height="183.64" fill="#ff0600"/>
<rect x="673.12" y="102.00" width="4.82" height="144.72" fill="#ff0600"/>
</g>
<g>
<line x1="62.05" y1="102.2" x2="62.05" y2="99.2" stroke="#000" stroke-width="1.0"/>
<line x1="62.05" y1="458.7" x2="62.05" y2="461.7" stroke="#000" stroke-width="1.0"/>
<line x1="73.74" y1="102.2" x2="73.74" y2="99.2" stroke="#000" stroke-width="1.0"/>
<line x1="73.74" y1="458.7" x2="73.74" y2="461.7" stroke="#000" stroke-width="1.0"/>
<line x1="85.43" y1="102.2" x2="85.43" y2="99.2" stroke="#000" stroke-width="1.0"/>
<line x1="85.43" y1="458.7" x2="85.43" y2="461.7" stroke="#000" stroke-width="1.0"/>
<line x1="97.11" y1="102.2" x2="97.11" y2="99.2" stroke="#000" stroke-width="1.0"/>
<line x1="97.11" y1="458.7" x2="97.11" y2="461.7" stroke="#000" stroke-width="1.0"/>
<line x1="108.80" y1="102.2" x2="108.80" y2="96.7" stroke="#000" stroke-width="1.3"/>
<line x1="108.80" y1="458.7" x2="108.80" y2="464.2" stroke="#000" stroke-width="1.3"/>
<line x1="120.49" y1="102.2" x2="120.49" y2="99.2" stroke="#000" stroke-width="1.0"/>
<line x1="120.49" y1="458.7" x2="120.49" y2="461.7" stroke="#000" stroke-width="1.0"/>
<line x1="132.17" y1="102.2" x2="132.17" y2="99.2" stroke="#000" stroke-width="1.0"/>
<line x1="132.17" y1="458.7" x2="132.17" y2="461.7" stroke="#000" stroke-width="1.0"/>
<line x1="143.86" y1="102.2" x2="143.86" y2="99.2" stroke="#000" stroke-width="1.0"/>
<line x1="143.86" y1="458.7" x2="143.86" y2="461.7" stroke="#000" stroke-width="1.0"/>
<line x1="155.55" y1="102.2" x2="155.55" y2="99.2" stroke="#000" stroke-width="1.0"/>
<line x1="155.55" y1="458.7" x2="155.55" y2="461.7" stroke="#000" stroke-width="1.0"/>
<line x1="167.24" y1="102.2" x2="167.24" y2="96.7" stroke="#000" stroke-width="1.3"/>
<line x1="167.24" y1="458.7" x2="167.24" y2="464.2" stroke="#000" stroke-width="1.3"/>
<line x1="178.92" y1="102.2" x2="178.92" y2="99.2" stroke="#000" stroke-width="1.0"/>
<line x1="178.92" y1="458.7" x2="178.92" y2="461.7" stroke="#000" stroke-width="1.0"/>
<line x1="190.61" y1="102.2" x2="190.61" y2="99.2" stroke="#000" stroke-width="1.0"/>
<line x1="190.61" y1="458.7" x2="190.61" y2="461.7" stroke="#000" stroke-width="1.0"/>
<line x1="202.30" y1="102.2" x2="202.30" y2="99.2" stroke="#000" stroke-width="1.0"/>
<line x1="202.30" y1="458.7" x2="202.30" y2="461.7" stroke="#000" stroke-width="1.0"/>
<line x1="213.98" y1="102.2" x2="213.98" y2="99.2" stroke="#000" stroke-width="1.0"/>
<line x1="213.98" y1="458.7" x2="213.98" y2="461.7" stroke="#000" stroke-width="1.0"/>
<line x1="225.67" y1="102.2" x2="225.67" y2="96.7" stroke="#000" stroke-width="1.3"/>
<line x1="225.67" y1="458.7" x2="225.67" y2="464.2" stroke="#000" stroke-width="1.3"/>
<line x1="237.36" y1="102.2" x2="237.36" y2="99.2" stroke="#000" stroke-width="1.0"/>
<line x1="237.36" y1="458.7" x2="237.36" y2="461.7" stroke="#000" stroke-width="1.0"/>
<line x1="249.04" y1="102.2" x2="249.04" y2="99.2" stroke="#000" stroke-width="1.0"/>
<line x1="249.04" y1="458.7" x2="249.04" y2="461.7" stroke="#000" stroke-width="1.0"/>
<line x1="260.73" y1="102.2" x2="260.73" y2="99.2" stroke="#000" stroke-width="1.0"/>
<line x1="260.73" y1="458.7" x2="260.73" y2="461.7" stroke="#000" stroke-width="1.0"/>
<line x1="272.42" y1="102.2" x2="272.42" y2="99.2" stroke="#000" stroke-width="1.0"/>
<line x1="272.42" y1="458.7" x2="272.42" y2="461.7" stroke="#000" stroke-width="1.0"/>
<line x1="284.11" y1="102.2" x2="284.11" y2="96.7" stroke="#000" stroke-width="1.3"/>
<line x1="284.11" y1="458.7" x2="284.11" y2="464.2" stroke="#000" stroke-width="1.3"/>
<line x1="295.79" y1="102.2" x2="295.79" y2="99.2" stroke="#000" stroke-width="1.0"/>
<line x1="295.79" y1="458.7" x2="295.79" y2="461.7" stroke="#000" stroke-width="1.0"/>
<line x1="307.48" y1="102.2" x2="307.48" y2="99.2" stroke="#000" stroke-width="1.0"/>
<line x1="307.48" y1="458.7" x2="307.48" y2="461.7" stroke="#000" stroke-width="1.0"/>
<line x1="319.17" y1="102.2" x2="319.17" y2="99.2" stroke="#000" stroke-width="1.0"/>
<line x1="319.17" y1="458.7" x2="319.17" y2="461.7" stroke="#000" stroke-width="1.0"/>
<line x1="330.85" y1="102.2" x2="330.85" y2="99.2" stroke="#000" stroke-width="1.0"/>
<line x1="330.85" y1="458.7" x2="330.85" y2="461.7" stroke="#000" stroke-width="1.0"/>
<line x1="342.54" y1="102.2" x2="342.54" y2="96.7" stroke="#000" stroke-width="1.3"/>
<line x1="342.54" y1="458.7" x2="342.54" y2="464.2" stroke="#000" stroke-width="1.3"/>
<line x1="354.23" y1="102.2" x2="354.23" y2="99.2" stroke="#000" stroke-width="1.0"/>
<line x1="354.23" y1="458.7" x2="354.23" y2="461.7" stroke="#000" stroke-width="1.0"/>
<line x1="59.6" y1="458.05" x2="56.6" y2="458.05" stroke="#000" stroke-width="1.0"/>
<line x1="359.6" y1="458.05" x2="362.6" y2="458.05" stroke="#000" stroke-width="1.0"/>
<line x1="59.6" y1="447.80" x2="54.1" y2="447.80" stroke="#000" stroke-width="1.3"/>
<line x1="359.6" y1="447.80" x2="365.1" y2="447.80" stroke="#000" stroke-width="1.3"/>
<line x1="59.6" y1="437.55" x2="56.6" y2="437.55" stroke="#000" stroke-width="1.0"/>
<line x1="359.6" y1="437.55" x2="362.6" y2="437.55" stroke="#000" stroke-width="1.0"/>
<line x1="59.6" y1="427.30" x2="56.6" y2="427.30" stroke="#000" stroke-width="1.0"/>
<line x1="359.6" y1="427.30" x2="362.6" y2="427.30" stroke="#000" stroke-width="1.0"/>
<line x1="59.6" y1="417.05" x2="56.6" y2="417.05" stroke="#000" stroke-width="1.0"/>
<line x1="359.6" y1="417.05" x2="362.6" y2="417.05" stroke="#000" stroke-width="1.0"/>
<line x1="59.6" y1="406.80" x2="56.6" y2="406.80" stroke="#000" stroke-width="1.0"/>
<line x1="359.6" y1="406.80" x2="362.6" y2="406.80" stroke="#000" stroke-width="1.0"/>
<line x1="59.6" y1="396.55" x2="54.1" y2="396.55" stroke="#000" stroke-width="1.3"/>
<line x1="359.6" y1="396.55" x2="365.1" y2="396.55" stroke="#000" stroke-width="1.3"/>
<line x1="59.6" y1="386.30" x2="56.6" y2="386.30" stroke="#000" stroke-width="1.0"/>
<line x1="359.6" y1="386.30" x2="362.6" y2="386.30" stroke="#000" stroke-width="1.0"/>
<line x1="59.6" y1="376.05" x2="56.6" y2="376.05" stroke="#000" stroke-width="1.0"/>
<line x1="359.6" y1="376.05" x2="362.6" y2="376.05" stroke="#000" stroke-width="1.0"/>
<line x1="59.6" y1="365.80" x2="56.6" y2="365.80" stroke="#000" stroke-width="1.0"/>
<line x1="359.6" y1="365.80" x2="362.6" y2="365.80" stroke="#000" stroke-width="1.0"/>
<line x1="59.6" y1="355.55" x2="56.6" y2="355.55" stroke="#000" stroke-width="1.0"/>
<line x1="359.6" y1="355.55" x2="362.6" y2="355.55" stroke="#000" stroke-width="1.0"/>
<line x1="59.6" y1="345.30" x2="54.1" y2="345.30" stroke="#000" stroke-width="1.3"/>
<line x1="359.6" y1="345.30" x2="365.1" y2="345.30" stroke="#000" stroke-width="1.3"/>
<line x1="59.6" y1="335.05" x2="56.6" y2="335.05" stroke="#000" stroke-width="1.0"/>
<line x1="359.6" y1="335.05" x2="362.6" y2="335.05" stroke="#000" stroke-width="1.0"/>
<line x1="59.6" y1="324.80" x2="56.6" y2="324.80" stroke="#000" stroke-width="1.0"/>
<line x1="359.6" y1="324.80" x2="362.6" y2="324.80" stroke="#000" stroke-width="1.0"/>
<line x1="59.6" y1="314.55" x2="56.6" y2="314.55" stroke="#000" stroke-width="1.0"/>
<line x1="359.6" y1="314.55" x2="362.6" y2="314.55" stroke="#000" stroke-width="1.0"/>
<line x1="59.6" y1="304.30" x2="56.6" y2="304.30" stroke="#000" stroke-width="1.0"/>
<line x1="359.6" y1="304.30" x2="362.6" y2="304.30" stroke="#000" stroke-width="1.0"/>
<line x1="59.6" y1="294.05" x2="54.1" y2="294.05" stroke="#000" stroke-width="1.3"/>
<line x1="359.6" y1="294.05" x2="365.1" y2="294.05" stroke="#000" stroke-width="1.3"/>
<line x1="59.6" y1="283.80" x2="56.6" y2="283.80" stroke="#000" stroke-width="1.0"/>
<line x1="359.6" y1="283.80" x2="362.6" y2="283.80" stroke="#000" stroke-width="1.0"/>
<line x1="59.6" y1="273.55" x2="56.6" y2="273.55" stroke="#000" stroke-width="1.0"/>
<line x1="359.6" y1="273.55" x2="362.6" y2="273.55" stroke="#000" stroke-width="1.0"/>
<line x1="59.6" y1="263.30" x2="56.6" y2="263.30" stroke="#000" stroke-width="1.0"/>
<line x1="359.6" y1="263.30" x2="362.6" y2="263.30" stroke="#000" stroke-width="1.0"/>
<line x1="59.6" y1="253.05" x2="56.6" y2="253.05" stroke="#000" stroke-width="1.0"/>
<line x1="359.6" y1="253.05" x2="362.6" y2="253.05" stroke="#000" stroke-width="1.0"/>
<line x1="59.6" y1="242.80" x2="54.1" y2="242.80" stroke="#000" stroke-width="1.3"/>
<line x1="359.6" y1="242.80" x2="365.1" y2="242.80" stroke="#000" stroke-width="1.3"/>
<line x1="59.6" y1="232.55" x2="56.6" y2="232.55" stroke="#000" stroke-width="1.0"/>
<line x1="359.6" y1="232.55" x2="362.6" y2="232.55" stroke="#000" stroke-width="1.0"/>
<line x1="59.6" y1="222.30" x2="56.6" y2="222.30" stroke="#000" stroke-width="1.0"/>
<line x1="359.6" y1="222.30" x2="362.6" y2="222.30" stroke="#000" stroke-width="1.0"/>
<line x1="59.6" y1="212.05" x2="56.6" y2="212.05" stroke="#000" stroke-width="1.0"/>
<line x1="359.6" y1="212.05" x2="362.6" y2="212.05" stroke="#000" stroke-width="1.0"/>
<line x1="59.6" y1="201.80" x2="56.6" y2="201.80" stroke="#000" stroke-width="1.0"/>
<line x1="359.6" y1="201.80" x2="362.6" y2="201.80" stroke="#000" stroke-width="1.0"/>
<line x1="59.6" y1="191.55" x2="54.1" y2="191.55" stroke="#000" stroke-width="1.3"/>
<line x1="359.6" y1="191.55" x2="365.1" y2="191.55" stroke="#000" stroke-width="1.3"/>
<line x1="59.6" y1="181.30" x2="56.6" y2="181.30" stroke="#000" stroke-width="1.0"/>
<line x1="359.6" y1="181.30" x2="362.6" y2="181.30" stroke="#000" stroke-width="1.0"/>
<line x1="59.6" y1="171.05" x2="56.6" y2="171.05" stroke="#000" stroke-width="1.0"/>
<line x1="359.6" y1="171.05" x2="362.6" y2="171.05" stroke="#000" stroke-width="1.0"/>
<line x1="59.6" y1="160.80" x2="56.6" y2="160.80" stroke="#000" stroke-width="1.0"/>
<line x1="359.6" y1="160.80" x2="362.6" y2="160.80" stroke="#000" stroke-width="1.0"/>
<line x1="59.6" y1="150.55" x2="56.6" y2="150.55" stroke="#000" stroke-width="1.0"/>
<line x1="359.6" y1="150.55" x2="362.6" y2="150.55" stroke="#000" stroke-width="1.0"/>
<line x1="59.6" y1="140.30" x2="54.1" y2="140.30" stroke="#000" stroke-width="1.3"/>
<line x1="359.6" y1="140.30" x2="365.1" y2="140.30" stroke="#000" stroke-width="1.3"/>
<line x1="59.6" y1="130.05" x2="56.6" y2="130.05" stroke="#000" stroke-width="1.0"/>
<line x1="359.6" y1="130.05" x2="362.6" y2="130.05" stroke="#000" stroke-width="1.0"/>
<line x1="59.6" y1="119.80" x2="56.6" y2="119.80" stroke="#000" stroke-width="1.0"/>
<line x1="359.6" y1="119.80" x2="362.6" y2="119.80" stroke="#000" stroke-width="1.0"/>
<line x1="59.6" y1="109.55" x2="56.6" y2="109.55" stroke="#000" stroke-width="1.0"/>
<line x1="359.6" y1="109.55" x2="362.6" y2="109.55" stroke="#000" stroke-width="1.0"/>
<line x1="380.55" y1="102.2" x2="380.55" y2="99.2" stroke="#000" stroke-width="1.0"/>
<line x1="380.55" y1="458.7" x2="380.55" y2="461.7" stroke="#000" stroke-width="1.0"/>
<line x1="392.24" y1="102.2" x2="392.24" y2="99.2" stroke="#000" stroke-width="1.0"/>
<line x1="392.24" y1="458.7" x2="392.24" y2="461.7" stroke="#000" stroke-width="1.0"/>
<line x1="403.93" y1="102.2" x2="403.93" y2="99.2" stroke="#000" stroke-width="1.0"/>
<line x1="403.93" y1="458.7" x2="403.93" y2="461.7" stroke="#000" stroke-width="1.0"/>
<line x1="415.61" y1="102.2" x2="415.61" y2="99.2" stroke="#000" stroke-width="1.0"/>
<line x1="415.61" y1="458.7" x2="415.61" y2="461.7" stroke="#000" stroke-width="1.0"/>
<line x1="427.30" y1="102.2" x2="427.30" y2="96.7" stroke="#000" stroke-width="1.3"/>
<line x1="427.30" y1="458.7" x2="427.30" y2="464.2" stroke="#000" stroke-width="1.3"/>
<line x1="438.99" y1="102.2" x2="438.99" y2="99.2" stroke="#000" stroke-width="1.0"/>
<line x1="438.99" y1="458.7" x2="438.99" y2="461.7" stroke="#000" stroke-width="1.0"/>
<line x1="450.67" y1="102.2" x2="450.67" y2="99.2" stroke="#000" stroke-width="1.0"/>
<line x1="450.67" y1="458.7" x2="450.67" y2="461.7" stroke="#000" stroke-width="1.0"/>
<line x1="462.36" y1="102.2" x2="462.36" y2="99.2" stroke="#000" stroke-width="1.0"/>
<line x1="462.36" y1="458.7" x2="462.36" y2="461.7" stroke="#000" stroke-width="1.0"/>
<line x1="474.05" y1="102.2" x2="474.05" y2="99.2" stroke="#000" stroke-width="1.0"/>
<line x1="474.05" y1="458.7" x2="474.05" y2="461.7" stroke="#000" stroke-width="1.0"/>
<line x1="485.74" y1="102.2" x2="485.74" y2="96.7" stroke="#000" stroke-width="1.3"/>
<line x1="485.74" y1="458.7" x2="485.74" y2="464.2" stroke="#000" stroke-width="1.3"/>
<line x1="497.42" y1="102.2" x2="497.42" y2="99.2" stroke="#000" stroke-width="1.0"/>
<line x1="497.42" y1="458.7" x2="497.42" y2="461.7" stroke="#000" stroke-width="1.0"/>
<line x1="509.11" y1="102.2" x2="509.11" y2="99.2" stroke="#000" stroke-width="1.0"/>
<line x1="509.11" y1="458.7" x2="509.11" y2="461.7" stroke="#000" stroke-width="1.0"/>
<line x1="520.80" y1="102.2" x2="520.80" y2="99.2" stroke="#000" stroke-width="1.0"/>
<line x1="520.80" y1="458.7" x2="520.80" y2="461.7" stroke="#000" stroke-width="1.0"/>
<line x1="532.48" y1="102.2" x2="532.48" y2="99.2" stroke="#000" stroke-width="1.0"/>
<line x1="532.48" y1="458.7" x2="532.48" y2="461.7" stroke="#000" stroke-width="1.0"/>
<line x1="544.17" y1="102.2" x2="544.17" y2="96.7" stroke="#000" stroke-width="1.3"/>
<line x1="544.17" y1="458.7" x2="544.17" y2="464.2" stroke="#000" stroke-width="1.3"/>
<line x1="555.86" y1="102.2" x2="555.86" y2="99.2" stroke="#000" stroke-width="1.0"/>
<line x1="555.86" y1="458.7" x2="555.86" y2="461.7" stroke="#000" stroke-width="1.0"/>
<line x1="567.54" y1="102.2" x2="567.54" y2="99.2" stroke="#000" stroke-width="1.0"/>
<line x1="567.54" y1="458.7" x2="567.54" y2="461.7" stroke="#000" stroke-width="1.0"/>
<line x1="579.23" y1="102.2" x2="579.23" y2="99.2" stroke="#000" stroke-width="1.0"/>
<line x1="579.23" y1="458.7" x2="579.23" y2="461.7" stroke="#000" stroke-width="1.0"/>
<line x1="590.92" y1="102.2" x2="590.92" y2="99.2" stroke="#000" stroke-width="1.0"/>
<line x1="590.92" y1="458.7" x2="590.92" y2="461.7" stroke="#000" stroke-width="1.0"/>
<line x1="602.61" y1="102.2" x2="602.61" y2="96.7" stroke="#000" stroke-width="1.3"/>
<line x1="602.61" y1="458.7" x2="602.61" y2="464.2" stroke="#000" stroke-width="1.3"/>
<line x1="614.29" y1="102.2" x2="614.29" y2="99.2" stroke="#000" stroke-width="1.0"/>
<line x1="614.29" y1="458.7" x2="614.29" y2="461.7" stroke="#000" stroke-width="1.0"/>
<line x1="625.98" y1="102.2" x2="625.98" y2="99.2" stroke="#000" stroke-width="1.0"/>
<line x1="625.98" y1="458.7" x2="625.98" y2="461.7" stroke="#000" stroke-width="1.0"/>
<line x1="637.67" y1="102.2" x2="637.67" y2="99.2" stroke="#000" stroke-width="1.0"/>
<line x1="637.67" y1="458.7" x2="637.67" y2="461.7" stroke="#000" stroke-width="1.0"/>
<line x1="649.35" y1="102.2" x2="649.35" y2="99.2" stroke="#000" stroke-width="1.0"/>
<line x1="649.35" y1="458.7" x2="649.35" y2="461.7" stroke="#000" stroke-width="1.0"/>
<line x1="661.04" y1="102.2" x2="661.04" y2="96.7" stroke="#000" stroke-width="1.3"/>
<line x1="661.04" y1="458.7" x2="661.04" y2="464.2" stroke="#000" stroke-width="1.3"/>
<line x1="672.73" y1="102.2" x2="672.73" y2="99.2" stroke="#000" stroke-width="1.0"/>
<line x1="672.73" y1="458.7" x2="672.73" y2="461.7" stroke="#000" stroke-width="1.0"/>
<line x1="378.2" y1="458.05" x2="375.2" y2="458.05" stroke="#000" stroke-width="1.0"/>
<line x1="678.2" y1="458.05" x2="681.2" y2="458.05" stroke="#000" stroke-width="1.0"/>
<line x1="378.2" y1="447.80" x2="372.7" y2="447.80" stroke="#000" stroke-width="1.3"/>
<line x1="678.2" y1="447.80" x2="683.7" y2="447.80" stroke="#000" stroke-width="1.3"/>
<line x1="378.2" y1="437.55" x2="375.2" y2="437.55" stroke="#000" stroke-width="1.0"/>
<line x1="678.2" y1="437.55" x2="681.2" y2="437.55" stroke="#000" stroke-width="1.0"/>
<line x1="378.2" y1="427.30" x2="375.2" y2="427.30" stroke="#000" stroke-width="1.0"/>
<line x1="678.2" y1="427.30" x2="681.2" y2="427.30" stroke="#000" stroke-width="1.0"/>
<line x1="378.2" y1="417.05" x2="375.2" y2="417.05" stroke="#000" stroke-width="1.0"/>
<line x1="678.2" y1="417.05" x2="681.2" y2="417.05" stroke="#000" stroke-width="1.0"/>
<line x1="378.2" y1="406.80" x2="375.2" y2="406.80" stroke="#000" stroke-width="1.0"/>
<line x1="678.2" y1="406.80" x2="681.2" y2="406.80" stroke="#000" stroke-width="1.0"/>
<line x1="378.2" y1="396.55" x2="372.7" y2="396.55" stroke="#000" stroke-width="1.3"/>
<line x1="678.2" y1="396.55" x2="683.7" y2="396.55" stroke="#000" stroke-width="1.3"/>
<line x1="378.2" y1="386.30" x2="375.2" y2="386.30" stroke="#000" stroke-width="1.0"/>
<line x1="678.2" y1="386.30" x2="681.2" y2="386.30" stroke="#000" stroke-width="1.0"/>
<line x1="378.2" y1="376.05" x2="375.2" y2="376.05" stroke="#000" stroke-width="1.0"/>
<line x1="678.2" y1="376.05" x2="681.2" y2="376.05" stroke="#000" stroke-width="1.0"/>
<line x1="378.2" y1="365.80" x2="375.2" y2="365.80" stroke="#000" stroke-width="1.0"/>
<line x1="678.2" y1="365.80" x2="681.2" y2="365.80" stroke="#000" stroke-width="1.0"/>
<line x1="378.2" y1="355.55" x2="375.2" y2="355.55" stroke="#000" stroke-width="1.0"/>
<line x1="678.2" y1="355.55" x2="681.2" y2="355.55" stroke="#000" stroke-width="1.0"/>
<line x1="378.2" y1="345.30" x2="372.7" y2="345.30" stroke="#000" stroke-width="1.3"/>
<line x1="678.2" y1="345.30" x2="683.7" y2="345.30" stroke="#000" stroke-width="1.3"/>
<line x1="378.2" y1="335.05" x2="375.2" y2="335.05" stroke="#000" stroke-width="1.0"/>
<line x1="678.2" y1="335.05" x2="681.2" y2="335.05" stroke="#000" stroke-width="1.0"/>
<line x1="378.2" y1="324.80" x2="375.2" y2="324.80" stroke="#000" stroke-width="1.0"/>
<line x1="678.2" y1="324.80" x2="681.2" y2="324.80" stroke="#000" stroke-width="1.0"/>
<line x1="378.2" y1="314.55" x2="375.2" y2="314.55" stroke="#000" stroke-width="1.0"/>
<line x1="678.2" y1="314.55" x2="681.2" y2="314.55" stroke="#000" stroke-width="1.0"/>
<line x1="378.2" y1="304.30" x2="375.2" y2="304.30" stroke="#000" stroke-width="1.0"/>
<line x1="678.2" y1="304.30" x2="681.2" y2="304.30" stroke="#000" stroke-width="1.0"/>
<line x1="378.2" y1="294.05" x2="372.7" y2="294.05" stroke="#000" stroke-width="1.3"/>
<line x1="678.2" y1="294.05" x2="683.7" y2="294.05" stroke="#000" stroke-width="1.3"/>
<line x1="378.2" y1="283.80" x2="375.2" y2="283.80" stroke="#000" stroke-width="1.0"/>
<line x1="678.2" y1="283.80" x2="681.2" y2="283.80" stroke="#000" stroke-width="1.0"/>
<line x1="378.2" y1="273.55" x2="375.2" y2="273.55" stroke="#000" stroke-width="1.0"/>
<line x1="678.2" y1="273.55" x2="681.2" y2="273.55" stroke="#000" stroke-width="1.0"/>
<line x1="378.2" y1="263.30" x2="375.2" y2="263.30" stroke="#000" stroke-width="1.0"/>
<line x1="678.2" y1="263.30" x2="681.2" y2="263.30" stroke="#000" stroke-width="1.0"/>
<line x1="378.2" y1="253.05" x2="375.2" y2="253.05" stroke="#000" stroke-width="1.0"/>
<line x1="678.2" y1="253.05" x2="681.2" y2="253.05" stroke="#000" stroke-width="1.0"/>
<line x1="378.2" y1="242.80" x2="372.7" y2="242.80" stroke="#000" stroke-width="1.3"/>
<line x1="678.2" y1="242.80" x2="683.7" y2="242.80" stroke="#000" stroke-width="1.3"/>
<line x1="378.2" y1="232.55" x2="375.2" y2="232.55" stroke="#000" stroke-width="1.0"/>
<line x1="678.2" y1="232.55" x2="681.2" y2="232.55" stroke="#000" stroke-width="1.0"/>
<line x1="378.2" y1="222.30" x2="375.2" y2="222.30" stroke="#000" stroke-width="1.0"/>
<line x1="678.2" y1="222.30" x2="681.2" y2="222.30" stroke="#000" stroke-width="1.0"/>
<line x1="378.2" y1="212.05" x2="375.2" y2="212.05" stroke="#000" stroke-width="1.0"/>
<line x1="678.2" y1="212.05" x2="681.2" y2="212.05" stroke="#000" stroke-width="1.0"/>
<line x1="378.2" y1="201.80" x2="375.2" y2="201.80" stroke="#000" stroke-width="1.0"/>
<line x1="678.2" y1="201.80" x2="681.2" y2="201.80" stroke="#000" stroke-width="1.0"/>
<line x1="378.2" y1="191.55" x2="372.7" y2="191.55" stroke="#000" stroke-width="1.3"/>
<line x1="678.2" y1="191.55" x2="683.7" y2="191.55" stroke="#000" stroke-width="1.3"/>
<line x1="378.2" y1="181.30" x2="375.2" y2="181.30" stroke="#000" stroke-width="1.0"/>
<line x1="678.2" y1="181.30" x2="681.2" y2="181.30" stroke="#000" stroke-width="1.0"/>
<line x1="378.2" y1="171.05" x2="375.2" y2="171.05" stroke="#000" stroke-width="1.0"/>
<line x1="678.2" y1="171.05" x2="681.2" y2="171.05" stroke="#000" stroke-width="1.0"/>
<line x1="378.2" y1="160.80" x2="375.2" y2="160.80" stroke="#000" stroke-width="1.0"/>
<line x1="678.2" y1="160.80" x2="681.2" y2="160.80" stroke="#000" stroke-width="1.0"/>
<line x1="378.2" y1="150.55" x2="375.2" y2="150.55" stroke="#000" stroke-width="1.0"/>
<line x1="678.2" y1="150.55" x2="681.2" y2="150.55" stroke="#000" stroke-width="1.0"/>
<line x1="378.2" y1="140.30" x2="372.7" y2="140.30" stroke="#000" stroke-width="1.3"/>
<line x1="678.2" y1="140.30" x2="683.7" y2="140.30" stroke="#000" stroke-width="1.3"/>
<line x1="378.2" y1="130.05" x2="375.2" y2="130.05" stroke="#000" stroke-width="1.0"/>
<line x1="678.2" y1="130.05" x2="681.2" y2="130.05" stroke="#000" stroke-width="1.0"/>
<line x1="378.2" y1="119.80" x2="375.2" y2="119.80" stroke="#000" stroke-width="1.0"/>
<line x1="678.2" y1="119.80" x2="681.2" y2="119.80" stroke="#000" stroke-width="1.0"/>
<line x1="378.2" y1="109.55" x2="375.2" y2="109.55" stroke="#000" stroke-width="1.0"/>
<line x1="678.2" y1="109.55" x2="681.2" y2="109.55" stroke="#000" stroke-width="1.0"/>
</g>
</svg>
</body></html>
